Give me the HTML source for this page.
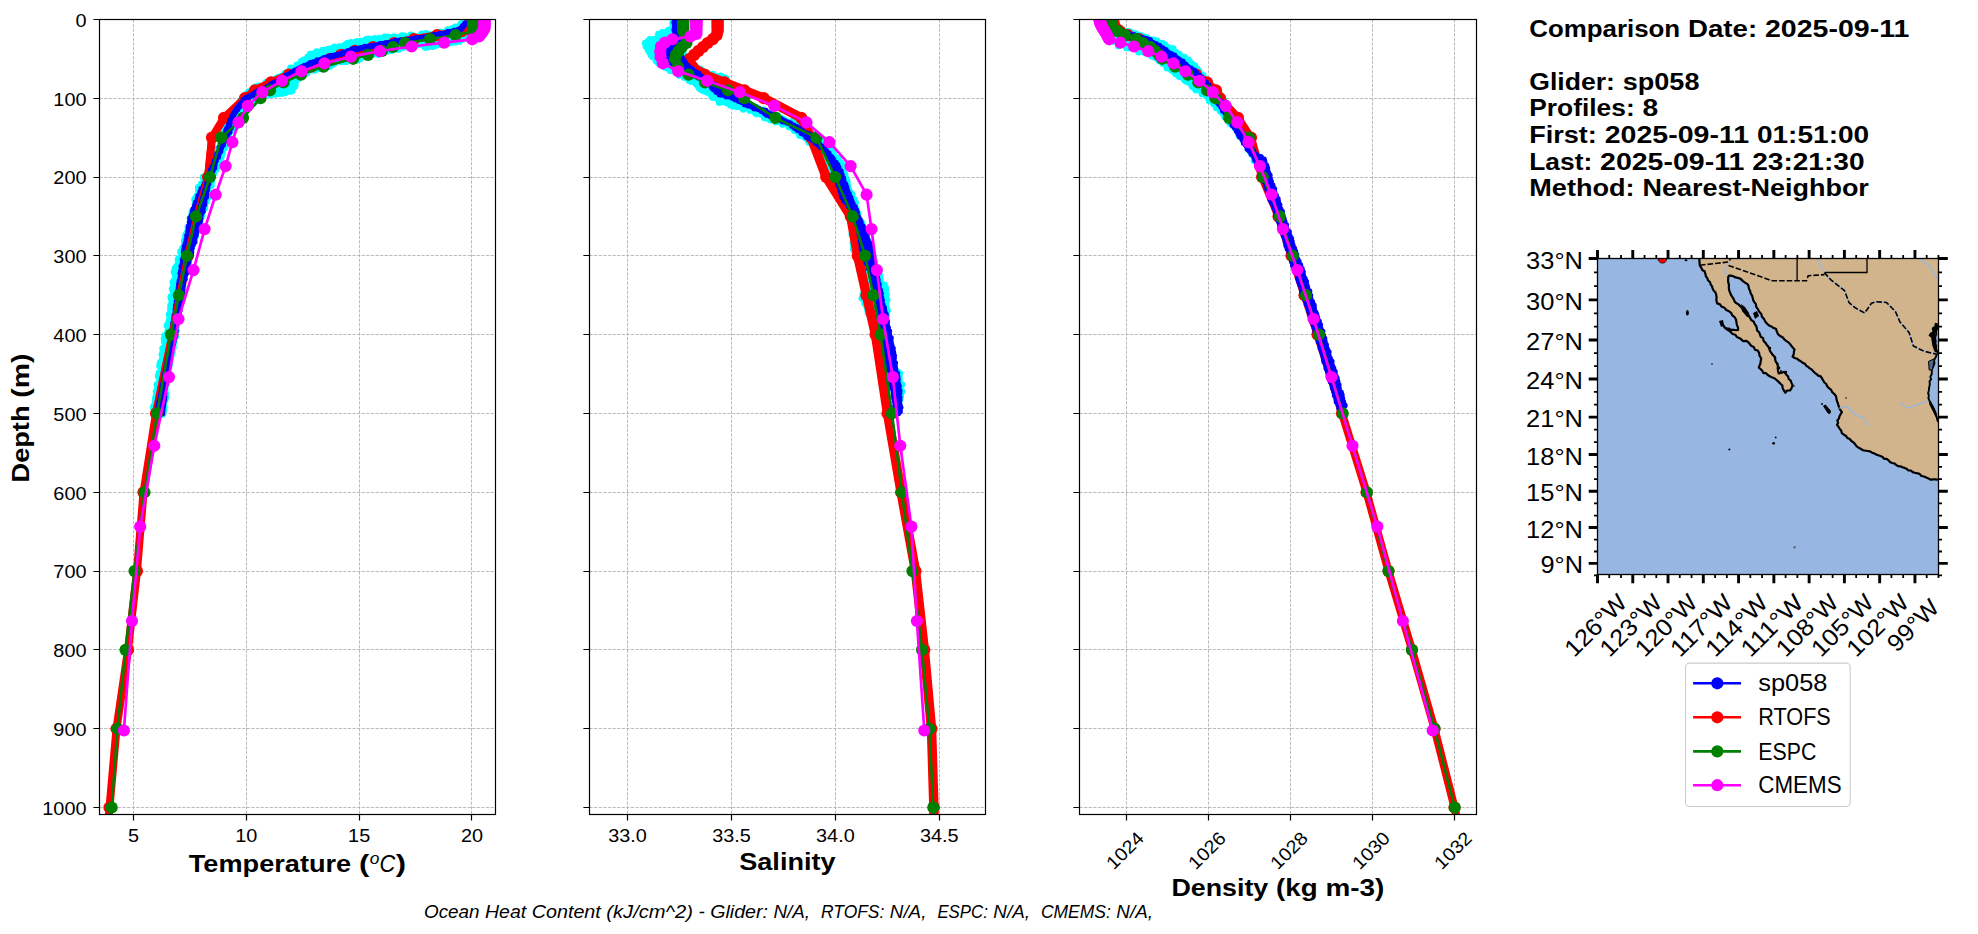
<!DOCTYPE html><html><head><meta charset="utf-8"><style>html,body{margin:0;padding:0;background:#fff;overflow:hidden}svg{display:block}</style></head><body><svg width="1978" height="934" viewBox="0 0 1978 934" font-family="Liberation Sans, sans-serif">
<rect width="1978" height="934" fill="#fff"/>
<defs>
<clipPath id="c0"><rect x="99.5" y="19.4" width="395.9" height="794.9"/></clipPath>
<clipPath id="c1"><rect x="589.4" y="19.4" width="396.0" height="794.9"/></clipPath>
<clipPath id="c2"><rect x="1079.4" y="19.4" width="397.0" height="794.9"/></clipPath>
</defs>
<g><line x1="99.5" y1="19.50" x2="495.5" y2="19.50" stroke="#b0b0b0" stroke-width="0.87" stroke-dasharray="3.21 1.39"/><line x1="99.5" y1="98.50" x2="495.5" y2="98.50" stroke="#b0b0b0" stroke-width="0.87" stroke-dasharray="3.21 1.39"/><line x1="99.5" y1="177.50" x2="495.5" y2="177.50" stroke="#b0b0b0" stroke-width="0.87" stroke-dasharray="3.21 1.39"/><line x1="99.5" y1="255.50" x2="495.5" y2="255.50" stroke="#b0b0b0" stroke-width="0.87" stroke-dasharray="3.21 1.39"/><line x1="99.5" y1="334.50" x2="495.5" y2="334.50" stroke="#b0b0b0" stroke-width="0.87" stroke-dasharray="3.21 1.39"/><line x1="99.5" y1="413.50" x2="495.5" y2="413.50" stroke="#b0b0b0" stroke-width="0.87" stroke-dasharray="3.21 1.39"/><line x1="99.5" y1="492.50" x2="495.5" y2="492.50" stroke="#b0b0b0" stroke-width="0.87" stroke-dasharray="3.21 1.39"/><line x1="99.5" y1="571.50" x2="495.5" y2="571.50" stroke="#b0b0b0" stroke-width="0.87" stroke-dasharray="3.21 1.39"/><line x1="99.5" y1="649.50" x2="495.5" y2="649.50" stroke="#b0b0b0" stroke-width="0.87" stroke-dasharray="3.21 1.39"/><line x1="99.5" y1="728.50" x2="495.5" y2="728.50" stroke="#b0b0b0" stroke-width="0.87" stroke-dasharray="3.21 1.39"/><line x1="99.5" y1="807.50" x2="495.5" y2="807.50" stroke="#b0b0b0" stroke-width="0.87" stroke-dasharray="3.21 1.39"/><line x1="133.50" y1="19.5" x2="133.50" y2="814.5" stroke="#b0b0b0" stroke-width="0.87" stroke-dasharray="3.21 1.39"/><line x1="246.50" y1="19.5" x2="246.50" y2="814.5" stroke="#b0b0b0" stroke-width="0.87" stroke-dasharray="3.21 1.39"/><line x1="359.50" y1="19.5" x2="359.50" y2="814.5" stroke="#b0b0b0" stroke-width="0.87" stroke-dasharray="3.21 1.39"/><line x1="471.50" y1="19.5" x2="471.50" y2="814.5" stroke="#b0b0b0" stroke-width="0.87" stroke-dasharray="3.21 1.39"/></g>
<g><line x1="589.5" y1="19.50" x2="985.5" y2="19.50" stroke="#b0b0b0" stroke-width="0.87" stroke-dasharray="3.21 1.39"/><line x1="589.5" y1="98.50" x2="985.5" y2="98.50" stroke="#b0b0b0" stroke-width="0.87" stroke-dasharray="3.21 1.39"/><line x1="589.5" y1="177.50" x2="985.5" y2="177.50" stroke="#b0b0b0" stroke-width="0.87" stroke-dasharray="3.21 1.39"/><line x1="589.5" y1="255.50" x2="985.5" y2="255.50" stroke="#b0b0b0" stroke-width="0.87" stroke-dasharray="3.21 1.39"/><line x1="589.5" y1="334.50" x2="985.5" y2="334.50" stroke="#b0b0b0" stroke-width="0.87" stroke-dasharray="3.21 1.39"/><line x1="589.5" y1="413.50" x2="985.5" y2="413.50" stroke="#b0b0b0" stroke-width="0.87" stroke-dasharray="3.21 1.39"/><line x1="589.5" y1="492.50" x2="985.5" y2="492.50" stroke="#b0b0b0" stroke-width="0.87" stroke-dasharray="3.21 1.39"/><line x1="589.5" y1="571.50" x2="985.5" y2="571.50" stroke="#b0b0b0" stroke-width="0.87" stroke-dasharray="3.21 1.39"/><line x1="589.5" y1="649.50" x2="985.5" y2="649.50" stroke="#b0b0b0" stroke-width="0.87" stroke-dasharray="3.21 1.39"/><line x1="589.5" y1="728.50" x2="985.5" y2="728.50" stroke="#b0b0b0" stroke-width="0.87" stroke-dasharray="3.21 1.39"/><line x1="589.5" y1="807.50" x2="985.5" y2="807.50" stroke="#b0b0b0" stroke-width="0.87" stroke-dasharray="3.21 1.39"/><line x1="627.50" y1="19.5" x2="627.50" y2="814.5" stroke="#b0b0b0" stroke-width="0.87" stroke-dasharray="3.21 1.39"/><line x1="731.50" y1="19.5" x2="731.50" y2="814.5" stroke="#b0b0b0" stroke-width="0.87" stroke-dasharray="3.21 1.39"/><line x1="835.50" y1="19.5" x2="835.50" y2="814.5" stroke="#b0b0b0" stroke-width="0.87" stroke-dasharray="3.21 1.39"/><line x1="939.50" y1="19.5" x2="939.50" y2="814.5" stroke="#b0b0b0" stroke-width="0.87" stroke-dasharray="3.21 1.39"/></g>
<g><line x1="1079.5" y1="19.50" x2="1476.5" y2="19.50" stroke="#b0b0b0" stroke-width="0.87" stroke-dasharray="3.21 1.39"/><line x1="1079.5" y1="98.50" x2="1476.5" y2="98.50" stroke="#b0b0b0" stroke-width="0.87" stroke-dasharray="3.21 1.39"/><line x1="1079.5" y1="177.50" x2="1476.5" y2="177.50" stroke="#b0b0b0" stroke-width="0.87" stroke-dasharray="3.21 1.39"/><line x1="1079.5" y1="255.50" x2="1476.5" y2="255.50" stroke="#b0b0b0" stroke-width="0.87" stroke-dasharray="3.21 1.39"/><line x1="1079.5" y1="334.50" x2="1476.5" y2="334.50" stroke="#b0b0b0" stroke-width="0.87" stroke-dasharray="3.21 1.39"/><line x1="1079.5" y1="413.50" x2="1476.5" y2="413.50" stroke="#b0b0b0" stroke-width="0.87" stroke-dasharray="3.21 1.39"/><line x1="1079.5" y1="492.50" x2="1476.5" y2="492.50" stroke="#b0b0b0" stroke-width="0.87" stroke-dasharray="3.21 1.39"/><line x1="1079.5" y1="571.50" x2="1476.5" y2="571.50" stroke="#b0b0b0" stroke-width="0.87" stroke-dasharray="3.21 1.39"/><line x1="1079.5" y1="649.50" x2="1476.5" y2="649.50" stroke="#b0b0b0" stroke-width="0.87" stroke-dasharray="3.21 1.39"/><line x1="1079.5" y1="728.50" x2="1476.5" y2="728.50" stroke="#b0b0b0" stroke-width="0.87" stroke-dasharray="3.21 1.39"/><line x1="1079.5" y1="807.50" x2="1476.5" y2="807.50" stroke="#b0b0b0" stroke-width="0.87" stroke-dasharray="3.21 1.39"/><line x1="1126.50" y1="19.5" x2="1126.50" y2="814.5" stroke="#b0b0b0" stroke-width="0.87" stroke-dasharray="3.21 1.39"/><line x1="1208.50" y1="19.5" x2="1208.50" y2="814.5" stroke="#b0b0b0" stroke-width="0.87" stroke-dasharray="3.21 1.39"/><line x1="1290.50" y1="19.5" x2="1290.50" y2="814.5" stroke="#b0b0b0" stroke-width="0.87" stroke-dasharray="3.21 1.39"/><line x1="1372.50" y1="19.5" x2="1372.50" y2="814.5" stroke="#b0b0b0" stroke-width="0.87" stroke-dasharray="3.21 1.39"/><line x1="1454.50" y1="19.5" x2="1454.50" y2="814.5" stroke="#b0b0b0" stroke-width="0.87" stroke-dasharray="3.21 1.39"/></g>
<g clip-path="url(#c0)"><g fill="#00ffff"><polygon points="462.4,22.8 461.7,23.8 461.5,24.1 461.3,24.3 461.0,24.6 460.7,24.8 460.4,24.9 451.8,29.2 451.6,29.4 451.3,29.5 442.7,32.1 442.3,32.2 432.0,33.9 431.8,33.9 417.2,35.6 417.1,35.6 397.3,37.3 397.2,37.3 381.9,38.2 368.3,39.9 358.1,41.5 349.8,43.2 339.7,46.6 339.4,46.7 326.0,50.0 313.9,53.7 299.0,63.0 287.5,71.6 287.3,71.8 287.0,71.9 271.7,79.6 262.3,85.3 261.8,85.5 248.9,91.1 242.2,97.8 239.5,104.0 239.4,104.4 239.2,104.7 238.9,105.0 231.0,113.8 225.2,129.2 217.2,151.2 217.1,151.4 208.1,171.4 207.9,171.7 199.3,186.6 191.3,215.9 183.4,247.6 183.3,248.0 175.4,269.0 172.8,287.4 170.1,314.0 170.0,314.4 164.8,341.0 160.8,367.7 156.8,394.4 156.8,394.5 154.2,409.6 156.3,414.6 163.0,414.6 164.6,399.6 164.6,399.6 168.6,369.6 168.6,369.5 172.6,344.5 172.7,344.3 177.7,319.4 182.1,291.8 184.6,274.5 184.7,274.2 190.7,249.2 190.8,249.0 199.8,221.0 206.8,199.0 212.7,179.0 212.8,178.8 228.8,134.8 228.9,134.6 229.1,134.3 229.2,134.0 229.4,133.8 239.4,122.0 245.9,109.7 246.1,109.4 246.3,109.1 251.1,103.3 251.3,103.1 251.6,102.9 251.8,102.7 263.4,95.0 263.7,94.8 264.0,94.7 264.3,94.5 264.7,94.5 265.0,94.4 274.5,93.5 283.1,92.5 291.0,91.0 297.0,79.0 297.1,78.7 297.3,78.5 297.5,78.2 297.7,78.0 297.9,77.8 298.2,77.6 298.5,77.5 310.1,71.7 310.5,71.5 336.5,62.8 336.8,62.7 337.2,62.6 352.4,60.7 367.6,55.6 368.0,55.5 393.7,50.4 415.0,44.4 415.3,44.4 415.6,44.3 415.9,44.3 416.2,44.3 416.5,44.4 428.6,46.7 436.5,44.4 436.8,44.4 437.2,44.3 451.4,43.4 459.1,41.1 467.1,35.8 471.3,22.8 462.4,22.8"/><circle cx="462.6" cy="22.6" r="3.4"/><circle cx="460.6" cy="24.2" r="3.4"/><circle cx="458.5" cy="27.1" r="3.4"/><circle cx="455.4" cy="26.8" r="3.4"/><circle cx="452.4" cy="28.5" r="3.4"/><circle cx="448.8" cy="31.2" r="3.4"/><circle cx="447.9" cy="29.7" r="3.4"/><circle cx="444.7" cy="32.0" r="3.4"/><circle cx="440.5" cy="31.8" r="3.4"/><circle cx="438.3" cy="32.8" r="3.4"/><circle cx="435.4" cy="33.8" r="3.4"/><circle cx="431.0" cy="34.6" r="3.4"/><circle cx="430.2" cy="35.4" r="3.4"/><circle cx="426.3" cy="33.4" r="3.4"/><circle cx="421.7" cy="34.0" r="3.4"/><circle cx="421.2" cy="34.7" r="3.4"/><circle cx="416.7" cy="36.6" r="3.4"/><circle cx="413.6" cy="36.0" r="3.4"/><circle cx="410.9" cy="35.0" r="3.4"/><circle cx="408.3" cy="37.3" r="3.4"/><circle cx="404.2" cy="35.9" r="3.4"/><circle cx="401.8" cy="35.7" r="3.4"/><circle cx="399.1" cy="38.0" r="3.4"/><circle cx="396.5" cy="37.4" r="3.4"/><circle cx="394.0" cy="36.6" r="3.4"/><circle cx="390.3" cy="37.4" r="3.4"/><circle cx="387.4" cy="36.9" r="3.4"/><circle cx="384.8" cy="37.0" r="3.4"/><circle cx="380.2" cy="39.1" r="3.4"/><circle cx="379.3" cy="38.5" r="3.4"/><circle cx="374.9" cy="38.4" r="3.4"/><circle cx="371.6" cy="39.7" r="3.4"/><circle cx="368.3" cy="38.8" r="3.4"/><circle cx="366.1" cy="39.3" r="3.4"/><circle cx="363.6" cy="41.5" r="3.4"/><circle cx="361.0" cy="41.1" r="3.4"/><circle cx="356.9" cy="41.5" r="3.4"/><circle cx="353.1" cy="42.8" r="3.4"/><circle cx="351.0" cy="42.4" r="3.4"/><circle cx="347.4" cy="43.5" r="3.4"/><circle cx="345.9" cy="44.3" r="3.4"/><circle cx="343.8" cy="46.0" r="3.4"/><circle cx="339.3" cy="46.6" r="3.4"/><circle cx="338.2" cy="47.3" r="3.4"/><circle cx="334.4" cy="46.8" r="3.4"/><circle cx="331.2" cy="48.6" r="3.4"/><circle cx="328.1" cy="49.2" r="3.4"/><circle cx="325.7" cy="50.3" r="3.4"/><circle cx="322.5" cy="50.2" r="3.4"/><circle cx="319.6" cy="53.1" r="3.4"/><circle cx="316.6" cy="51.6" r="3.4"/><circle cx="312.7" cy="53.8" r="3.4"/><circle cx="310.2" cy="54.2" r="3.4"/><circle cx="307.8" cy="56.8" r="3.4"/><circle cx="307.6" cy="58.4" r="3.4"/><circle cx="303.7" cy="59.9" r="3.4"/><circle cx="301.2" cy="61.5" r="3.4"/><circle cx="299.3" cy="64.3" r="3.4"/><circle cx="296.8" cy="64.9" r="3.4"/><circle cx="294.3" cy="67.9" r="3.4"/><circle cx="290.6" cy="68.0" r="3.4"/><circle cx="289.4" cy="70.9" r="3.4"/><circle cx="287.0" cy="72.4" r="3.4"/><circle cx="284.8" cy="73.4" r="3.4"/><circle cx="282.0" cy="76.0" r="3.4"/><circle cx="278.4" cy="77.1" r="3.4"/><circle cx="276.4" cy="78.5" r="3.4"/><circle cx="272.0" cy="79.9" r="3.4"/><circle cx="271.2" cy="81.5" r="3.4"/><circle cx="269.2" cy="81.3" r="3.4"/><circle cx="265.8" cy="82.5" r="3.4"/><circle cx="263.1" cy="86.1" r="3.4"/><circle cx="259.3" cy="85.9" r="3.4"/><circle cx="256.3" cy="86.6" r="3.4"/><circle cx="253.9" cy="87.6" r="3.4"/><circle cx="253.2" cy="90.8" r="3.4"/><circle cx="249.0" cy="91.6" r="3.4"/><circle cx="247.4" cy="93.1" r="3.4"/><circle cx="244.6" cy="95.6" r="3.4"/><circle cx="242.8" cy="96.7" r="3.4"/><circle cx="240.9" cy="100.3" r="3.4"/><circle cx="240.4" cy="101.9" r="3.4"/><circle cx="238.9" cy="106.3" r="3.4"/><circle cx="237.6" cy="107.9" r="3.4"/><circle cx="233.5" cy="109.5" r="3.4"/><circle cx="231.5" cy="110.8" r="3.4"/><circle cx="230.1" cy="114.2" r="3.4"/><circle cx="230.4" cy="117.4" r="3.4"/><circle cx="228.1" cy="120.4" r="3.4"/><circle cx="227.6" cy="122.8" r="3.4"/><circle cx="225.9" cy="125.4" r="3.4"/><circle cx="225.1" cy="128.9" r="3.4"/><circle cx="224.4" cy="131.0" r="3.4"/><circle cx="223.4" cy="133.9" r="3.4"/><circle cx="222.9" cy="137.4" r="3.4"/><circle cx="222.2" cy="139.4" r="3.4"/><circle cx="221.1" cy="143.7" r="3.4"/><circle cx="220.6" cy="145.9" r="3.4"/><circle cx="217.2" cy="149.0" r="3.4"/><circle cx="218.2" cy="149.7" r="3.4"/><circle cx="215.6" cy="153.2" r="3.4"/><circle cx="215.5" cy="156.7" r="3.4"/><circle cx="213.0" cy="158.3" r="3.4"/><circle cx="211.5" cy="160.8" r="3.4"/><circle cx="211.9" cy="165.8" r="3.4"/><circle cx="209.2" cy="168.0" r="3.4"/><circle cx="209.9" cy="169.3" r="3.4"/><circle cx="207.5" cy="172.6" r="3.4"/><circle cx="207.0" cy="176.3" r="3.4"/><circle cx="203.0" cy="177.2" r="3.4"/><circle cx="203.7" cy="180.8" r="3.4"/><circle cx="201.3" cy="184.0" r="3.4"/><circle cx="200.5" cy="186.9" r="3.4"/><circle cx="198.3" cy="187.4" r="3.4"/><circle cx="198.4" cy="190.3" r="3.4"/><circle cx="197.3" cy="195.3" r="3.4"/><circle cx="196.1" cy="197.5" r="3.4"/><circle cx="194.7" cy="199.3" r="3.4"/><circle cx="195.1" cy="204.0" r="3.4"/><circle cx="195.3" cy="204.7" r="3.4"/><circle cx="194.3" cy="208.9" r="3.4"/><circle cx="192.0" cy="211.5" r="3.4"/><circle cx="191.8" cy="214.2" r="3.4"/><circle cx="190.0" cy="218.5" r="3.4"/><circle cx="190.7" cy="220.7" r="3.4"/><circle cx="190.0" cy="224.6" r="3.4"/><circle cx="187.9" cy="227.1" r="3.4"/><circle cx="188.8" cy="228.8" r="3.4"/><circle cx="187.4" cy="232.0" r="3.4"/><circle cx="185.7" cy="234.8" r="3.4"/><circle cx="184.9" cy="239.1" r="3.4"/><circle cx="184.3" cy="241.2" r="3.4"/><circle cx="184.5" cy="245.0" r="3.4"/><circle cx="184.4" cy="246.3" r="3.4"/><circle cx="182.4" cy="248.4" r="3.4"/><circle cx="180.5" cy="251.8" r="3.4"/><circle cx="181.8" cy="254.0" r="3.4"/><circle cx="178.7" cy="258.3" r="3.4"/><circle cx="178.1" cy="260.0" r="3.4"/><circle cx="178.6" cy="262.4" r="3.4"/><circle cx="176.7" cy="266.2" r="3.4"/><circle cx="175.0" cy="268.4" r="3.4"/><circle cx="174.1" cy="272.0" r="3.4"/><circle cx="175.2" cy="275.1" r="3.4"/><circle cx="174.8" cy="279.1" r="3.4"/><circle cx="172.8" cy="282.1" r="3.4"/><circle cx="173.5" cy="283.9" r="3.4"/><circle cx="172.9" cy="288.1" r="3.4"/><circle cx="172.2" cy="289.0" r="3.4"/><circle cx="173.4" cy="292.0" r="3.4"/><circle cx="170.9" cy="296.6" r="3.4"/><circle cx="171.1" cy="298.5" r="3.4"/><circle cx="171.7" cy="303.0" r="3.4"/><circle cx="170.6" cy="306.0" r="3.4"/><circle cx="171.0" cy="308.3" r="3.4"/><circle cx="170.5" cy="309.7" r="3.4"/><circle cx="169.2" cy="314.4" r="3.4"/><circle cx="170.0" cy="315.8" r="3.4"/><circle cx="169.3" cy="319.8" r="3.4"/><circle cx="168.6" cy="322.5" r="3.4"/><circle cx="167.0" cy="325.4" r="3.4"/><circle cx="168.4" cy="327.9" r="3.4"/><circle cx="167.6" cy="331.7" r="3.4"/><circle cx="164.9" cy="335.4" r="3.4"/><circle cx="164.2" cy="338.4" r="3.4"/><circle cx="164.4" cy="341.5" r="3.4"/><circle cx="165.0" cy="343.1" r="3.4"/><circle cx="164.3" cy="347.7" r="3.4"/><circle cx="162.6" cy="348.6" r="3.4"/><circle cx="162.5" cy="353.2" r="3.4"/><circle cx="162.0" cy="354.6" r="3.4"/><circle cx="162.5" cy="358.5" r="3.4"/><circle cx="161.5" cy="361.4" r="3.4"/><circle cx="160.1" cy="362.9" r="3.4"/><circle cx="159.6" cy="366.0" r="3.4"/><circle cx="161.1" cy="371.4" r="3.4"/><circle cx="159.0" cy="372.8" r="3.4"/><circle cx="158.2" cy="375.9" r="3.4"/><circle cx="159.5" cy="379.4" r="3.4"/><circle cx="159.7" cy="382.2" r="3.4"/><circle cx="157.0" cy="384.7" r="3.4"/><circle cx="157.6" cy="387.5" r="3.4"/><circle cx="156.1" cy="391.3" r="3.4"/><circle cx="156.8" cy="394.5" r="3.4"/><circle cx="156.0" cy="395.8" r="3.4"/><circle cx="155.2" cy="399.0" r="3.4"/><circle cx="155.3" cy="401.9" r="3.4"/><circle cx="153.8" cy="405.8" r="3.4"/><circle cx="153.4" cy="407.7" r="3.4"/><circle cx="154.0" cy="412.1" r="3.4"/><circle cx="157.0" cy="415.1" r="3.4"/><circle cx="159.2" cy="415.0" r="3.4"/><circle cx="162.6" cy="414.4" r="3.4"/><circle cx="163.2" cy="413.1" r="3.4"/><circle cx="163.9" cy="409.9" r="3.4"/><circle cx="164.2" cy="406.7" r="3.4"/><circle cx="163.4" cy="403.1" r="3.4"/><circle cx="165.0" cy="400.4" r="3.4"/><circle cx="165.8" cy="397.3" r="3.4"/><circle cx="165.7" cy="393.7" r="3.4"/><circle cx="165.2" cy="392.6" r="3.4"/><circle cx="165.2" cy="389.1" r="3.4"/><circle cx="165.2" cy="386.0" r="3.4"/><circle cx="166.7" cy="383.8" r="3.4"/><circle cx="168.1" cy="380.5" r="3.4"/><circle cx="167.2" cy="377.3" r="3.4"/><circle cx="167.2" cy="373.8" r="3.4"/><circle cx="168.2" cy="370.8" r="3.4"/><circle cx="168.3" cy="367.2" r="3.4"/><circle cx="169.4" cy="365.3" r="3.4"/><circle cx="170.0" cy="363.2" r="3.4"/><circle cx="170.5" cy="358.1" r="3.4"/><circle cx="171.2" cy="355.6" r="3.4"/><circle cx="172.4" cy="352.1" r="3.4"/><circle cx="171.6" cy="350.6" r="3.4"/><circle cx="173.4" cy="347.2" r="3.4"/><circle cx="172.4" cy="344.9" r="3.4"/><circle cx="174.0" cy="342.3" r="3.4"/><circle cx="174.4" cy="337.3" r="3.4"/><circle cx="175.7" cy="336.5" r="3.4"/><circle cx="174.9" cy="332.8" r="3.4"/><circle cx="176.5" cy="330.6" r="3.4"/><circle cx="176.8" cy="325.5" r="3.4"/><circle cx="175.7" cy="323.2" r="3.4"/><circle cx="177.3" cy="320.1" r="3.4"/><circle cx="178.6" cy="318.4" r="3.4"/><circle cx="178.2" cy="315.2" r="3.4"/><circle cx="178.1" cy="312.9" r="3.4"/><circle cx="178.7" cy="307.9" r="3.4"/><circle cx="179.6" cy="306.8" r="3.4"/><circle cx="180.6" cy="303.3" r="3.4"/><circle cx="181.6" cy="299.6" r="3.4"/><circle cx="182.5" cy="298.2" r="3.4"/><circle cx="181.9" cy="294.6" r="3.4"/><circle cx="183.2" cy="291.2" r="3.4"/><circle cx="181.7" cy="288.4" r="3.4"/><circle cx="183.0" cy="286.0" r="3.4"/><circle cx="182.8" cy="280.8" r="3.4"/><circle cx="183.1" cy="278.3" r="3.4"/><circle cx="184.1" cy="275.4" r="3.4"/><circle cx="184.5" cy="273.4" r="3.4"/><circle cx="184.7" cy="270.2" r="3.4"/><circle cx="186.0" cy="266.1" r="3.4"/><circle cx="187.5" cy="264.4" r="3.4"/><circle cx="188.5" cy="262.5" r="3.4"/><circle cx="187.3" cy="259.1" r="3.4"/><circle cx="189.0" cy="256.6" r="3.4"/><circle cx="188.8" cy="253.6" r="3.4"/><circle cx="190.4" cy="248.8" r="3.4"/><circle cx="191.3" cy="247.9" r="3.4"/><circle cx="191.2" cy="243.8" r="3.4"/><circle cx="192.2" cy="240.0" r="3.4"/><circle cx="195.0" cy="238.5" r="3.4"/><circle cx="195.3" cy="236.6" r="3.4"/><circle cx="194.9" cy="233.8" r="3.4"/><circle cx="197.6" cy="230.7" r="3.4"/><circle cx="198.7" cy="226.7" r="3.4"/><circle cx="197.5" cy="225.4" r="3.4"/><circle cx="200.0" cy="221.8" r="3.4"/><circle cx="201.1" cy="217.8" r="3.4"/><circle cx="201.9" cy="215.4" r="3.4"/><circle cx="201.7" cy="212.6" r="3.4"/><circle cx="203.2" cy="209.3" r="3.4"/><circle cx="204.9" cy="208.0" r="3.4"/><circle cx="205.4" cy="202.8" r="3.4"/><circle cx="206.2" cy="201.5" r="3.4"/><circle cx="207.8" cy="197.8" r="3.4"/><circle cx="207.1" cy="195.1" r="3.4"/><circle cx="207.8" cy="193.3" r="3.4"/><circle cx="208.3" cy="189.9" r="3.4"/><circle cx="211.3" cy="185.6" r="3.4"/><circle cx="210.4" cy="185.2" r="3.4"/><circle cx="211.6" cy="181.8" r="3.4"/><circle cx="211.8" cy="178.1" r="3.4"/><circle cx="212.9" cy="174.7" r="3.4"/><circle cx="213.8" cy="173.0" r="3.4"/><circle cx="216.0" cy="169.4" r="3.4"/><circle cx="216.9" cy="167.4" r="3.4"/><circle cx="217.5" cy="163.2" r="3.4"/><circle cx="218.0" cy="161.7" r="3.4"/><circle cx="220.6" cy="157.8" r="3.4"/><circle cx="221.3" cy="156.9" r="3.4"/><circle cx="222.2" cy="153.5" r="3.4"/><circle cx="222.9" cy="150.1" r="3.4"/><circle cx="225.0" cy="147.7" r="3.4"/><circle cx="225.6" cy="143.8" r="3.4"/><circle cx="225.2" cy="141.5" r="3.4"/><circle cx="228.0" cy="138.3" r="3.4"/><circle cx="229.0" cy="135.8" r="3.4"/><circle cx="228.7" cy="133.5" r="3.4"/><circle cx="231.9" cy="130.5" r="3.4"/><circle cx="232.9" cy="129.9" r="3.4"/><circle cx="235.9" cy="127.0" r="3.4"/><circle cx="236.4" cy="124.7" r="3.4"/><circle cx="238.6" cy="121.7" r="3.4"/><circle cx="240.6" cy="118.8" r="3.4"/><circle cx="243.1" cy="115.7" r="3.4"/><circle cx="244.9" cy="114.7" r="3.4"/><circle cx="245.1" cy="112.1" r="3.4"/><circle cx="246.8" cy="109.7" r="3.4"/><circle cx="248.6" cy="107.6" r="3.4"/><circle cx="251.2" cy="104.4" r="3.4"/><circle cx="254.1" cy="102.5" r="3.4"/><circle cx="254.6" cy="100.8" r="3.4"/><circle cx="256.9" cy="98.5" r="3.4"/><circle cx="260.8" cy="96.3" r="3.4"/><circle cx="262.6" cy="94.7" r="3.4"/><circle cx="265.3" cy="93.7" r="3.4"/><circle cx="269.1" cy="95.0" r="3.4"/><circle cx="271.5" cy="94.4" r="3.4"/><circle cx="275.2" cy="94.3" r="3.4"/><circle cx="278.3" cy="93.6" r="3.4"/><circle cx="281.1" cy="93.4" r="3.4"/><circle cx="283.5" cy="93.2" r="3.4"/><circle cx="285.6" cy="92.5" r="3.4"/><circle cx="289.7" cy="91.4" r="3.4"/><circle cx="291.9" cy="90.9" r="3.4"/><circle cx="293.7" cy="87.6" r="3.4"/><circle cx="295.3" cy="85.4" r="3.4"/><circle cx="295.1" cy="82.7" r="3.4"/><circle cx="297.9" cy="79.3" r="3.4"/><circle cx="300.2" cy="76.3" r="3.4"/><circle cx="302.6" cy="75.1" r="3.4"/><circle cx="304.3" cy="74.5" r="3.4"/><circle cx="307.0" cy="73.1" r="3.4"/><circle cx="308.8" cy="70.6" r="3.4"/><circle cx="313.3" cy="70.1" r="3.4"/><circle cx="315.0" cy="70.3" r="3.4"/><circle cx="319.1" cy="68.9" r="3.4"/><circle cx="322.1" cy="67.5" r="3.4"/><circle cx="325.1" cy="67.3" r="3.4"/><circle cx="327.8" cy="66.8" r="3.4"/><circle cx="330.3" cy="66.1" r="3.4"/><circle cx="333.3" cy="63.9" r="3.4"/><circle cx="334.5" cy="62.9" r="3.4"/><circle cx="338.7" cy="61.2" r="3.4"/><circle cx="341.6" cy="61.8" r="3.4"/><circle cx="344.3" cy="60.6" r="3.4"/><circle cx="346.2" cy="61.7" r="3.4"/><circle cx="349.7" cy="60.0" r="3.4"/><circle cx="354.2" cy="59.2" r="3.4"/><circle cx="356.6" cy="60.3" r="3.4"/><circle cx="360.0" cy="58.9" r="3.4"/><circle cx="360.6" cy="57.4" r="3.4"/><circle cx="365.6" cy="56.3" r="3.4"/><circle cx="367.6" cy="56.2" r="3.4"/><circle cx="370.6" cy="54.6" r="3.4"/><circle cx="373.6" cy="54.3" r="3.4"/><circle cx="375.9" cy="52.7" r="3.4"/><circle cx="378.6" cy="54.5" r="3.4"/><circle cx="381.7" cy="52.3" r="3.4"/><circle cx="386.4" cy="51.0" r="3.4"/><circle cx="387.5" cy="51.2" r="3.4"/><circle cx="391.0" cy="50.7" r="3.4"/><circle cx="393.4" cy="49.4" r="3.4"/><circle cx="397.0" cy="48.6" r="3.4"/><circle cx="398.5" cy="49.4" r="3.4"/><circle cx="403.3" cy="47.5" r="3.4"/><circle cx="406.5" cy="46.2" r="3.4"/><circle cx="409.5" cy="46.7" r="3.4"/><circle cx="411.8" cy="44.3" r="3.4"/><circle cx="414.9" cy="43.8" r="3.4"/><circle cx="417.3" cy="44.6" r="3.4"/><circle cx="419.0" cy="44.5" r="3.4"/><circle cx="424.2" cy="46.3" r="3.4"/><circle cx="425.5" cy="47.4" r="3.4"/><circle cx="427.8" cy="47.0" r="3.4"/><circle cx="432.6" cy="46.7" r="3.4"/><circle cx="435.1" cy="45.6" r="3.4"/><circle cx="437.0" cy="45.0" r="3.4"/><circle cx="441.1" cy="44.3" r="3.4"/><circle cx="443.0" cy="44.4" r="3.4"/><circle cx="445.5" cy="43.7" r="3.4"/><circle cx="450.0" cy="43.1" r="3.4"/><circle cx="452.8" cy="41.9" r="3.4"/><circle cx="455.0" cy="42.2" r="3.4"/><circle cx="459.2" cy="41.4" r="3.4"/><circle cx="462.1" cy="39.6" r="3.4"/><circle cx="464.5" cy="38.5" r="3.4"/><circle cx="465.9" cy="35.8" r="3.4"/><circle cx="468.5" cy="35.1" r="3.4"/><circle cx="468.2" cy="31.0" r="3.4"/><circle cx="468.9" cy="28.2" r="3.4"/><circle cx="469.3" cy="26.7" r="3.4"/><circle cx="471.1" cy="22.0" r="3.4"/><circle cx="468.9" cy="22.0" r="3.4"/><circle cx="466.4" cy="21.5" r="3.4"/></g><g fill="#0000ff"></g><polyline points="472.0,19.4 471.8,21.0 471.6,22.6 471.4,24.1 471.2,25.7 471.0,27.3 468.0,28.9 462.0,31.2 437.0,35.2 414.0,39.1 394.0,43.0 373.0,47.0 355.0,50.9 341.0,54.9 330.0,58.8 311.0,66.7 289.0,74.6 271.0,82.4 255.0,90.3 245.0,98.2 224.0,117.9 212.0,137.6 208.0,177.0 197.0,216.4 188.0,255.8 180.0,295.2 172.5,334.6 156.0,413.4 143.5,492.3 137.0,571.1 128.0,649.9 116.5,728.7 109.5,807.5 94.0,1004.5" fill="none" stroke="#ff0000" stroke-width="8" stroke-linejoin="round"/><circle cx="472.0" cy="19.4" r="6.08" fill="#ff0000"/><circle cx="471.8" cy="21.0" r="6.08" fill="#ff0000"/><circle cx="471.6" cy="22.6" r="6.08" fill="#ff0000"/><circle cx="471.4" cy="24.1" r="6.08" fill="#ff0000"/><circle cx="471.2" cy="25.7" r="6.08" fill="#ff0000"/><circle cx="471.0" cy="27.3" r="6.08" fill="#ff0000"/><circle cx="468.0" cy="28.9" r="6.08" fill="#ff0000"/><circle cx="462.0" cy="31.2" r="6.08" fill="#ff0000"/><circle cx="437.0" cy="35.2" r="6.08" fill="#ff0000"/><circle cx="414.0" cy="39.1" r="6.08" fill="#ff0000"/><circle cx="394.0" cy="43.0" r="6.08" fill="#ff0000"/><circle cx="373.0" cy="47.0" r="6.08" fill="#ff0000"/><circle cx="355.0" cy="50.9" r="6.08" fill="#ff0000"/><circle cx="341.0" cy="54.9" r="6.08" fill="#ff0000"/><circle cx="330.0" cy="58.8" r="6.08" fill="#ff0000"/><circle cx="311.0" cy="66.7" r="6.08" fill="#ff0000"/><circle cx="289.0" cy="74.6" r="6.08" fill="#ff0000"/><circle cx="271.0" cy="82.4" r="6.08" fill="#ff0000"/><circle cx="255.0" cy="90.3" r="6.08" fill="#ff0000"/><circle cx="245.0" cy="98.2" r="6.08" fill="#ff0000"/><circle cx="224.0" cy="117.9" r="6.08" fill="#ff0000"/><circle cx="212.0" cy="137.6" r="6.08" fill="#ff0000"/><circle cx="208.0" cy="177.0" r="6.08" fill="#ff0000"/><circle cx="197.0" cy="216.4" r="6.08" fill="#ff0000"/><circle cx="188.0" cy="255.8" r="6.08" fill="#ff0000"/><circle cx="180.0" cy="295.2" r="6.08" fill="#ff0000"/><circle cx="172.5" cy="334.6" r="6.08" fill="#ff0000"/><circle cx="156.0" cy="413.4" r="6.08" fill="#ff0000"/><circle cx="143.5" cy="492.3" r="6.08" fill="#ff0000"/><circle cx="137.0" cy="571.1" r="6.08" fill="#ff0000"/><circle cx="128.0" cy="649.9" r="6.08" fill="#ff0000"/><circle cx="116.5" cy="728.7" r="6.08" fill="#ff0000"/><circle cx="109.5" cy="807.5" r="6.08" fill="#ff0000"/><circle cx="94.0" cy="1004.5" r="6.08" fill="#ff0000"/><g fill="#0000ff"><polygon points="461.1,28.2 460.9,28.4 460.7,28.6 460.4,28.7 460.2,28.9 459.9,29.0 459.7,29.1 444.7,33.3 444.4,33.3 422.6,37.6 422.5,37.6 398.6,41.0 398.5,41.0 374.6,45.3 374.5,45.3 353.1,49.6 353.0,49.6 336.5,54.8 316.1,61.3 316.0,61.3 306.4,65.3 306.3,65.3 291.6,72.8 291.4,72.9 278.6,80.8 278.4,80.9 261.5,89.8 261.5,89.8 245.6,97.8 245.5,97.8 245.5,97.8 245.5,97.9 245.5,97.9 245.4,97.9 234.0,112.8 233.9,112.9 233.9,113.0 227.4,127.9 227.4,127.9 220.4,144.9 220.4,144.9 220.4,145.0 220.4,145.0 220.4,145.0 220.4,145.0 220.4,145.0 220.4,145.1 220.4,145.1 220.4,145.1 220.4,145.1 220.4,145.1 220.5,145.1 220.5,145.2 220.5,145.2 220.5,145.2 220.5,145.2 220.5,145.2 220.6,145.2 220.6,145.2 220.6,145.2 220.6,145.2 220.6,145.2 220.7,145.2 220.7,145.2 220.7,145.2 220.7,145.2 220.7,145.2 220.7,145.1 220.8,145.1 220.8,145.1 220.8,145.1 220.8,145.0 227.8,128.1 227.8,128.1 234.1,113.4 234.3,113.1 234.5,112.8 245.3,98.7 245.5,98.5 245.7,98.3 245.9,98.1 246.1,98.0 246.3,97.8 261.7,90.2 261.7,90.2 278.7,81.2 278.7,81.1 291.6,73.2 291.8,73.1 306.4,65.7 306.6,65.6 316.1,61.7 316.3,61.6 336.7,55.2 336.7,55.2 353.0,50.0 353.3,50.0 374.6,45.7 374.7,45.7 398.6,41.4 398.7,41.4 422.6,38.0 422.7,38.0 444.6,33.7 444.7,33.7 460.6,29.2 460.7,29.2 460.7,29.2 460.7,29.2 460.7,29.2 460.7,29.1 460.8,29.1 466.7,22.6 466.8,22.5 466.8,22.5 466.8,22.5 466.8,22.5 466.8,22.4 466.8,22.4 466.8,22.4 466.8,22.4 466.8,22.4 466.8,22.4 466.8,22.3 466.8,22.3 466.8,22.3 466.8,22.3 466.7,22.3 466.7,22.3 466.7,22.2 466.7,22.2 466.7,22.2 466.7,22.2 466.6,22.2 466.6,22.2 466.6,22.2 466.6,22.2 466.6,22.2 466.6,22.2 466.5,22.2 466.5,22.2 466.5,22.2 466.5,22.2 466.5,22.3 466.4,22.3 461.1,28.2"/><circle cx="461.6" cy="28.4" r="3.0"/><circle cx="458.2" cy="30.0" r="3.0"/><circle cx="454.2" cy="30.7" r="3.0"/><circle cx="451.6" cy="31.9" r="3.0"/><circle cx="447.9" cy="32.0" r="3.0"/><circle cx="444.3" cy="33.9" r="3.0"/><circle cx="440.5" cy="33.8" r="3.0"/><circle cx="438.1" cy="34.6" r="3.0"/><circle cx="433.7" cy="35.1" r="3.0"/><circle cx="431.1" cy="35.8" r="3.0"/><circle cx="427.1" cy="36.9" r="3.0"/><circle cx="424.1" cy="37.4" r="3.0"/><circle cx="419.8" cy="38.0" r="3.0"/><circle cx="416.3" cy="37.9" r="3.0"/><circle cx="413.0" cy="39.1" r="3.0"/><circle cx="409.6" cy="39.6" r="3.0"/><circle cx="406.0" cy="39.4" r="3.0"/><circle cx="402.4" cy="40.6" r="3.0"/><circle cx="399.9" cy="40.5" r="3.0"/><circle cx="395.7" cy="40.9" r="3.0"/><circle cx="392.7" cy="41.8" r="3.0"/><circle cx="388.7" cy="42.9" r="3.0"/><circle cx="385.8" cy="43.3" r="3.0"/><circle cx="381.8" cy="44.1" r="3.0"/><circle cx="378.8" cy="44.5" r="3.0"/><circle cx="374.9" cy="45.7" r="3.0"/><circle cx="372.3" cy="46.1" r="3.0"/><circle cx="369.0" cy="46.6" r="3.0"/><circle cx="364.8" cy="46.8" r="3.0"/><circle cx="361.7" cy="47.9" r="3.0"/><circle cx="358.0" cy="49.2" r="3.0"/><circle cx="355.1" cy="48.8" r="3.0"/><circle cx="351.7" cy="49.6" r="3.0"/><circle cx="348.1" cy="51.0" r="3.0"/><circle cx="344.9" cy="52.8" r="3.0"/><circle cx="341.3" cy="53.6" r="3.0"/><circle cx="337.4" cy="54.6" r="3.0"/><circle cx="334.1" cy="55.4" r="3.0"/><circle cx="331.0" cy="56.0" r="3.0"/><circle cx="328.2" cy="57.1" r="3.0"/><circle cx="324.2" cy="58.1" r="3.0"/><circle cx="321.4" cy="59.4" r="3.0"/><circle cx="317.3" cy="60.2" r="3.0"/><circle cx="314.2" cy="61.9" r="3.0"/><circle cx="310.7" cy="62.7" r="3.0"/><circle cx="308.3" cy="64.6" r="3.0"/><circle cx="304.5" cy="65.8" r="3.0"/><circle cx="301.3" cy="67.4" r="3.0"/><circle cx="298.5" cy="68.9" r="3.0"/><circle cx="295.1" cy="70.5" r="3.0"/><circle cx="292.1" cy="72.4" r="3.0"/><circle cx="289.8" cy="74.3" r="3.0"/><circle cx="286.3" cy="75.4" r="3.0"/><circle cx="283.0" cy="78.0" r="3.0"/><circle cx="280.3" cy="80.1" r="3.0"/><circle cx="277.9" cy="81.2" r="3.0"/><circle cx="274.1" cy="82.8" r="3.0"/><circle cx="271.4" cy="84.2" r="3.0"/><circle cx="267.8" cy="86.8" r="3.0"/><circle cx="264.8" cy="88.6" r="3.0"/><circle cx="261.8" cy="90.0" r="3.0"/><circle cx="258.7" cy="90.7" r="3.0"/><circle cx="255.7" cy="92.4" r="3.0"/><circle cx="253.0" cy="94.6" r="3.0"/><circle cx="249.4" cy="96.4" r="3.0"/><circle cx="246.3" cy="98.0" r="3.0"/><circle cx="244.1" cy="99.6" r="3.0"/><circle cx="241.5" cy="103.2" r="3.0"/><circle cx="239.1" cy="106.1" r="3.0"/><circle cx="236.9" cy="108.6" r="3.0"/><circle cx="235.4" cy="111.0" r="3.0"/><circle cx="233.6" cy="114.1" r="3.0"/><circle cx="231.9" cy="117.0" r="3.0"/><circle cx="230.1" cy="120.7" r="3.0"/><circle cx="229.7" cy="123.5" r="3.0"/><circle cx="228.3" cy="126.8" r="3.0"/><circle cx="226.2" cy="130.5" r="3.0"/><circle cx="225.7" cy="132.9" r="3.0"/><circle cx="224.3" cy="136.4" r="3.0"/><circle cx="222.8" cy="139.6" r="3.0"/><circle cx="221.7" cy="142.9" r="3.0"/><circle cx="220.8" cy="143.7" r="3.0"/><circle cx="222.0" cy="140.5" r="3.0"/><circle cx="224.2" cy="137.2" r="3.0"/><circle cx="224.7" cy="134.2" r="3.0"/><circle cx="226.0" cy="131.6" r="3.0"/><circle cx="227.2" cy="128.2" r="3.0"/><circle cx="229.0" cy="124.4" r="3.0"/><circle cx="230.3" cy="121.6" r="3.0"/><circle cx="231.7" cy="118.2" r="3.0"/><circle cx="233.3" cy="115.2" r="3.0"/><circle cx="235.3" cy="111.8" r="3.0"/><circle cx="237.3" cy="109.6" r="3.0"/><circle cx="239.1" cy="106.8" r="3.0"/><circle cx="241.0" cy="103.7" r="3.0"/><circle cx="243.4" cy="100.5" r="3.0"/><circle cx="246.0" cy="98.6" r="3.0"/><circle cx="248.9" cy="96.4" r="3.0"/><circle cx="252.5" cy="95.6" r="3.0"/><circle cx="255.3" cy="93.5" r="3.0"/><circle cx="258.5" cy="92.1" r="3.0"/><circle cx="261.6" cy="90.4" r="3.0"/><circle cx="264.8" cy="89.0" r="3.0"/><circle cx="267.8" cy="87.1" r="3.0"/><circle cx="270.6" cy="85.1" r="3.0"/><circle cx="273.8" cy="83.5" r="3.0"/><circle cx="276.9" cy="81.7" r="3.0"/><circle cx="280.5" cy="79.9" r="3.0"/><circle cx="283.4" cy="78.6" r="3.0"/><circle cx="286.4" cy="77.2" r="3.0"/><circle cx="288.5" cy="74.6" r="3.0"/><circle cx="292.5" cy="73.3" r="3.0"/><circle cx="294.5" cy="71.2" r="3.0"/><circle cx="297.7" cy="69.7" r="3.0"/><circle cx="300.8" cy="67.8" r="3.0"/><circle cx="303.9" cy="66.7" r="3.0"/><circle cx="307.9" cy="65.2" r="3.0"/><circle cx="311.0" cy="64.1" r="3.0"/><circle cx="313.6" cy="62.8" r="3.0"/><circle cx="317.4" cy="61.2" r="3.0"/><circle cx="321.3" cy="60.2" r="3.0"/><circle cx="324.3" cy="59.5" r="3.0"/><circle cx="327.4" cy="57.7" r="3.0"/><circle cx="330.4" cy="56.8" r="3.0"/><circle cx="333.7" cy="55.9" r="3.0"/><circle cx="336.9" cy="55.3" r="3.0"/><circle cx="341.1" cy="54.1" r="3.0"/><circle cx="343.6" cy="52.5" r="3.0"/><circle cx="347.9" cy="52.2" r="3.0"/><circle cx="351.1" cy="51.2" r="3.0"/><circle cx="353.8" cy="49.5" r="3.0"/><circle cx="357.5" cy="49.1" r="3.0"/><circle cx="360.9" cy="48.1" r="3.0"/><circle cx="364.8" cy="47.4" r="3.0"/><circle cx="368.0" cy="47.4" r="3.0"/><circle cx="370.9" cy="46.2" r="3.0"/><circle cx="374.6" cy="45.4" r="3.0"/><circle cx="378.7" cy="45.5" r="3.0"/><circle cx="381.2" cy="43.9" r="3.0"/><circle cx="385.2" cy="43.8" r="3.0"/><circle cx="388.0" cy="43.6" r="3.0"/><circle cx="392.5" cy="42.7" r="3.0"/><circle cx="395.0" cy="41.6" r="3.0"/><circle cx="399.3" cy="41.6" r="3.0"/><circle cx="402.3" cy="41.4" r="3.0"/><circle cx="405.3" cy="40.6" r="3.0"/><circle cx="409.8" cy="40.3" r="3.0"/><circle cx="412.3" cy="39.6" r="3.0"/><circle cx="416.4" cy="39.0" r="3.0"/><circle cx="419.4" cy="39.0" r="3.0"/><circle cx="423.8" cy="37.4" r="3.0"/><circle cx="426.7" cy="37.3" r="3.0"/><circle cx="430.1" cy="36.3" r="3.0"/><circle cx="433.2" cy="36.1" r="3.0"/><circle cx="437.0" cy="35.1" r="3.0"/><circle cx="440.4" cy="34.3" r="3.0"/><circle cx="444.4" cy="34.2" r="3.0"/><circle cx="447.0" cy="32.7" r="3.0"/><circle cx="450.7" cy="32.2" r="3.0"/><circle cx="454.5" cy="31.6" r="3.0"/><circle cx="456.9" cy="30.5" r="3.0"/><circle cx="460.2" cy="29.2" r="3.0"/><circle cx="463.4" cy="26.1" r="3.0"/><circle cx="465.1" cy="23.4" r="3.0"/><circle cx="465.7" cy="23.4" r="3.0"/><circle cx="462.8" cy="25.9" r="3.0"/><polygon points="227.9,128.2 221.8,143.1 214.8,161.1 208.8,177.1 208.7,177.3 208.6,177.5 200.2,192.0 191.0,215.6 185.8,242.0 181.8,268.6 177.8,295.4 177.8,295.5 173.7,322.1 169.7,348.8 169.6,349.0 164.3,375.8 164.3,375.8 158.9,402.5 158.9,402.8 155.4,414.5 156.3,415.5 160.8,415.5 162.5,413.9 165.1,388.3 165.1,388.2 169.1,361.4 169.2,361.2 174.5,334.5 174.5,334.5 179.8,307.8 183.8,281.2 183.9,280.9 190.6,254.2 190.6,254.1 198.6,224.7 198.6,224.7 203.9,206.0 209.3,179.4 209.3,179.2 209.4,178.9 217.2,158.9 217.2,158.9 225.2,138.9 225.4,138.5 231.1,128.5 227.9,128.2"/><circle cx="228.4" cy="128.4" r="3.0"/><circle cx="226.9" cy="131.9" r="3.0"/><circle cx="225.0" cy="134.9" r="3.0"/><circle cx="224.4" cy="138.4" r="3.0"/><circle cx="222.7" cy="140.8" r="3.0"/><circle cx="221.2" cy="145.0" r="3.0"/><circle cx="219.5" cy="147.5" r="3.0"/><circle cx="219.3" cy="150.9" r="3.0"/><circle cx="217.1" cy="154.0" r="3.0"/><circle cx="216.7" cy="157.3" r="3.0"/><circle cx="214.8" cy="160.9" r="3.0"/><circle cx="214.0" cy="164.1" r="3.0"/><circle cx="211.9" cy="167.5" r="3.0"/><circle cx="210.7" cy="170.2" r="3.0"/><circle cx="209.6" cy="174.2" r="3.0"/><circle cx="208.5" cy="177.4" r="3.0"/><circle cx="206.6" cy="179.8" r="3.0"/><circle cx="204.7" cy="183.6" r="3.0"/><circle cx="203.9" cy="186.0" r="3.0"/><circle cx="201.4" cy="188.8" r="3.0"/><circle cx="200.2" cy="192.2" r="3.0"/><circle cx="198.3" cy="195.9" r="3.0"/><circle cx="197.6" cy="198.9" r="3.0"/><circle cx="195.8" cy="202.4" r="3.0"/><circle cx="195.0" cy="205.4" r="3.0"/><circle cx="193.3" cy="209.3" r="3.0"/><circle cx="192.8" cy="212.3" r="3.0"/><circle cx="191.7" cy="215.4" r="3.0"/><circle cx="190.2" cy="218.3" r="3.0"/><circle cx="189.8" cy="222.2" r="3.0"/><circle cx="188.9" cy="226.2" r="3.0"/><circle cx="188.7" cy="228.6" r="3.0"/><circle cx="188.1" cy="231.9" r="3.0"/><circle cx="187.1" cy="235.7" r="3.0"/><circle cx="186.5" cy="240.0" r="3.0"/><circle cx="185.7" cy="243.2" r="3.0"/><circle cx="184.6" cy="246.5" r="3.0"/><circle cx="184.1" cy="249.7" r="3.0"/><circle cx="183.9" cy="252.8" r="3.0"/><circle cx="183.8" cy="256.3" r="3.0"/><circle cx="182.7" cy="259.7" r="3.0"/><circle cx="182.7" cy="263.4" r="3.0"/><circle cx="181.4" cy="266.6" r="3.0"/><circle cx="181.1" cy="270.6" r="3.0"/><circle cx="180.4" cy="273.5" r="3.0"/><circle cx="180.6" cy="277.6" r="3.0"/><circle cx="179.5" cy="280.8" r="3.0"/><circle cx="179.0" cy="284.2" r="3.0"/><circle cx="178.7" cy="287.6" r="3.0"/><circle cx="178.0" cy="291.1" r="3.0"/><circle cx="177.6" cy="295.0" r="3.0"/><circle cx="177.8" cy="298.6" r="3.0"/><circle cx="176.7" cy="301.3" r="3.0"/><circle cx="175.9" cy="305.5" r="3.0"/><circle cx="175.6" cy="309.2" r="3.0"/><circle cx="175.7" cy="312.0" r="3.0"/><circle cx="174.5" cy="315.5" r="3.0"/><circle cx="174.3" cy="318.7" r="3.0"/><circle cx="173.3" cy="323.1" r="3.0"/><circle cx="172.9" cy="326.7" r="3.0"/><circle cx="172.4" cy="330.0" r="3.0"/><circle cx="172.0" cy="332.6" r="3.0"/><circle cx="171.6" cy="336.2" r="3.0"/><circle cx="171.5" cy="340.3" r="3.0"/><circle cx="170.5" cy="344.0" r="3.0"/><circle cx="170.0" cy="347.5" r="3.0"/><circle cx="169.6" cy="350.0" r="3.0"/><circle cx="168.4" cy="354.3" r="3.0"/><circle cx="167.5" cy="357.9" r="3.0"/><circle cx="166.8" cy="361.0" r="3.0"/><circle cx="166.8" cy="364.1" r="3.0"/><circle cx="166.1" cy="367.7" r="3.0"/><circle cx="165.1" cy="370.8" r="3.0"/><circle cx="164.1" cy="374.7" r="3.0"/><circle cx="164.4" cy="377.8" r="3.0"/><circle cx="163.6" cy="381.3" r="3.0"/><circle cx="162.2" cy="385.2" r="3.0"/><circle cx="162.3" cy="387.8" r="3.0"/><circle cx="161.6" cy="391.5" r="3.0"/><circle cx="160.8" cy="394.9" r="3.0"/><circle cx="160.3" cy="398.4" r="3.0"/><circle cx="158.7" cy="401.5" r="3.0"/><circle cx="157.6" cy="404.9" r="3.0"/><circle cx="157.5" cy="408.2" r="3.0"/><circle cx="155.6" cy="411.8" r="3.0"/><circle cx="155.6" cy="415.6" r="3.0"/><circle cx="158.9" cy="415.7" r="3.0"/><circle cx="162.2" cy="413.6" r="3.0"/><circle cx="162.5" cy="410.6" r="3.0"/><circle cx="162.9" cy="406.9" r="3.0"/><circle cx="163.4" cy="403.6" r="3.0"/><circle cx="164.2" cy="399.8" r="3.0"/><circle cx="164.4" cy="396.9" r="3.0"/><circle cx="164.4" cy="393.4" r="3.0"/><circle cx="164.5" cy="389.6" r="3.0"/><circle cx="165.3" cy="385.7" r="3.0"/><circle cx="166.1" cy="383.1" r="3.0"/><circle cx="166.5" cy="379.0" r="3.0"/><circle cx="167.5" cy="376.3" r="3.0"/><circle cx="167.7" cy="372.3" r="3.0"/><circle cx="168.2" cy="369.0" r="3.0"/><circle cx="168.8" cy="365.4" r="3.0"/><circle cx="169.4" cy="362.1" r="3.0"/><circle cx="169.9" cy="358.4" r="3.0"/><circle cx="170.2" cy="354.6" r="3.0"/><circle cx="171.1" cy="351.3" r="3.0"/><circle cx="171.7" cy="347.7" r="3.0"/><circle cx="172.9" cy="344.2" r="3.0"/><circle cx="173.6" cy="341.3" r="3.0"/><circle cx="174.3" cy="338.2" r="3.0"/><circle cx="174.1" cy="334.0" r="3.0"/><circle cx="175.8" cy="331.1" r="3.0"/><circle cx="175.4" cy="327.1" r="3.0"/><circle cx="176.1" cy="323.8" r="3.0"/><circle cx="176.8" cy="320.0" r="3.0"/><circle cx="177.4" cy="317.1" r="3.0"/><circle cx="178.9" cy="313.7" r="3.0"/><circle cx="179.6" cy="310.4" r="3.0"/><circle cx="179.6" cy="307.0" r="3.0"/><circle cx="180.5" cy="303.2" r="3.0"/><circle cx="181.6" cy="299.8" r="3.0"/><circle cx="181.8" cy="296.7" r="3.0"/><circle cx="182.1" cy="292.5" r="3.0"/><circle cx="182.2" cy="289.2" r="3.0"/><circle cx="182.7" cy="285.8" r="3.0"/><circle cx="183.1" cy="282.8" r="3.0"/><circle cx="184.7" cy="279.2" r="3.0"/><circle cx="184.7" cy="275.3" r="3.0"/><circle cx="186.5" cy="272.7" r="3.0"/><circle cx="187.2" cy="269.3" r="3.0"/><circle cx="187.4" cy="265.2" r="3.0"/><circle cx="188.5" cy="262.0" r="3.0"/><circle cx="189.3" cy="258.3" r="3.0"/><circle cx="190.7" cy="254.8" r="3.0"/><circle cx="191.3" cy="252.2" r="3.0"/><circle cx="191.7" cy="248.3" r="3.0"/><circle cx="192.9" cy="244.8" r="3.0"/><circle cx="194.5" cy="242.1" r="3.0"/><circle cx="194.5" cy="237.8" r="3.0"/><circle cx="195.9" cy="234.9" r="3.0"/><circle cx="196.2" cy="232.0" r="3.0"/><circle cx="198.1" cy="228.2" r="3.0"/><circle cx="198.1" cy="224.4" r="3.0"/><circle cx="200.0" cy="221.6" r="3.0"/><circle cx="200.4" cy="218.5" r="3.0"/><circle cx="200.9" cy="214.8" r="3.0"/><circle cx="202.8" cy="211.6" r="3.0"/><circle cx="202.9" cy="208.1" r="3.0"/><circle cx="204.3" cy="204.6" r="3.0"/><circle cx="204.5" cy="201.6" r="3.0"/><circle cx="206.1" cy="197.1" r="3.0"/><circle cx="206.3" cy="194.2" r="3.0"/><circle cx="206.9" cy="190.5" r="3.0"/><circle cx="207.4" cy="187.5" r="3.0"/><circle cx="208.4" cy="183.8" r="3.0"/><circle cx="209.1" cy="180.1" r="3.0"/><circle cx="210.6" cy="177.4" r="3.0"/><circle cx="211.1" cy="173.5" r="3.0"/><circle cx="212.7" cy="170.7" r="3.0"/><circle cx="214.4" cy="167.8" r="3.0"/><circle cx="214.7" cy="164.4" r="3.0"/><circle cx="215.9" cy="160.8" r="3.0"/><circle cx="218.1" cy="157.1" r="3.0"/><circle cx="218.8" cy="153.7" r="3.0"/><circle cx="220.3" cy="151.3" r="3.0"/><circle cx="221.1" cy="148.0" r="3.0"/><circle cx="222.9" cy="144.9" r="3.0"/><circle cx="224.4" cy="141.1" r="3.0"/><circle cx="225.5" cy="138.4" r="3.0"/><circle cx="227.4" cy="135.1" r="3.0"/><circle cx="229.4" cy="132.2" r="3.0"/><circle cx="230.7" cy="128.3" r="3.0"/></g><polyline points="209.0,137.6 205.0,177.0 194.0,216.4 185.0,255.8 177.0,295.2 169.5,334.6 153.0,413.4" fill="none" stroke="#ff0000" stroke-width="1.6" stroke-linejoin="round"/><polyline points="473.0,19.4 473.0,21.0 473.0,22.6 473.0,24.1 473.0,25.7 473.0,27.3 473.0,28.9 473.0,31.2 455.5,35.2 430.0,39.1 405.0,43.0 393.0,47.0 382.0,50.9 368.0,54.9 353.2,58.8 323.6,66.7 301.0,74.6 283.6,82.4 270.1,90.3 260.5,98.2 243.0,117.9 221.3,137.6 210.0,177.0 196.0,216.4 187.0,255.8 178.9,295.2 171.0,334.6 157.1,413.4 144.5,492.3 134.5,571.1 125.5,649.9 117.5,728.7 111.7,807.5 96.0,1004.5" fill="none" stroke="#008000" stroke-width="2.6" stroke-linejoin="round" stroke-linecap="butt"/><circle cx="473.0" cy="19.4" r="6.08" fill="#008000"/><circle cx="473.0" cy="21.0" r="6.08" fill="#008000"/><circle cx="473.0" cy="22.6" r="6.08" fill="#008000"/><circle cx="473.0" cy="24.1" r="6.08" fill="#008000"/><circle cx="473.0" cy="25.7" r="6.08" fill="#008000"/><circle cx="473.0" cy="27.3" r="6.08" fill="#008000"/><circle cx="473.0" cy="28.9" r="6.08" fill="#008000"/><circle cx="473.0" cy="31.2" r="6.08" fill="#008000"/><circle cx="455.5" cy="35.2" r="6.08" fill="#008000"/><circle cx="430.0" cy="39.1" r="6.08" fill="#008000"/><circle cx="405.0" cy="43.0" r="6.08" fill="#008000"/><circle cx="393.0" cy="47.0" r="6.08" fill="#008000"/><circle cx="382.0" cy="50.9" r="6.08" fill="#008000"/><circle cx="368.0" cy="54.9" r="6.08" fill="#008000"/><circle cx="353.2" cy="58.8" r="6.08" fill="#008000"/><circle cx="323.6" cy="66.7" r="6.08" fill="#008000"/><circle cx="301.0" cy="74.6" r="6.08" fill="#008000"/><circle cx="283.6" cy="82.4" r="6.08" fill="#008000"/><circle cx="270.1" cy="90.3" r="6.08" fill="#008000"/><circle cx="260.5" cy="98.2" r="6.08" fill="#008000"/><circle cx="243.0" cy="117.9" r="6.08" fill="#008000"/><circle cx="221.3" cy="137.6" r="6.08" fill="#008000"/><circle cx="210.0" cy="177.0" r="6.08" fill="#008000"/><circle cx="196.0" cy="216.4" r="6.08" fill="#008000"/><circle cx="187.0" cy="255.8" r="6.08" fill="#008000"/><circle cx="178.9" cy="295.2" r="6.08" fill="#008000"/><circle cx="171.0" cy="334.6" r="6.08" fill="#008000"/><circle cx="157.1" cy="413.4" r="6.08" fill="#008000"/><circle cx="144.5" cy="492.3" r="6.08" fill="#008000"/><circle cx="134.5" cy="571.1" r="6.08" fill="#008000"/><circle cx="125.5" cy="649.9" r="6.08" fill="#008000"/><circle cx="117.5" cy="728.7" r="6.08" fill="#008000"/><circle cx="111.7" cy="807.5" r="6.08" fill="#008000"/><circle cx="96.0" cy="1004.5" r="6.08" fill="#008000"/><polyline points="484.5,19.8 484.5,20.6 484.5,21.5 484.5,22.4 484.5,23.4 484.5,24.5 484.5,25.6 484.5,26.9 484.5,28.4 483.5,30.0 482.5,31.9 481.0,34.0 479.0,36.4 472.3,39.3 444.2,42.6 411.6,46.5 379.7,51.2 350.9,56.7 324.4,63.3 301.5,71.3 282.0,80.8 262.3,92.2 247.7,105.9 238.5,122.4 232.4,142.2 225.6,166.1 215.7,194.7 204.6,229.1 193.5,270.1 178.5,319.0 169.0,377.1 154.3,445.8 140.2,526.6 132.0,621.0 123.9,730.5" fill="none" stroke="#ff00ff" stroke-width="2.7" stroke-linejoin="round" stroke-linecap="butt"/><circle cx="484.5" cy="19.8" r="6.08" fill="#ff00ff"/><circle cx="484.5" cy="20.6" r="6.08" fill="#ff00ff"/><circle cx="484.5" cy="21.5" r="6.08" fill="#ff00ff"/><circle cx="484.5" cy="22.4" r="6.08" fill="#ff00ff"/><circle cx="484.5" cy="23.4" r="6.08" fill="#ff00ff"/><circle cx="484.5" cy="24.5" r="6.08" fill="#ff00ff"/><circle cx="484.5" cy="25.6" r="6.08" fill="#ff00ff"/><circle cx="484.5" cy="26.9" r="6.08" fill="#ff00ff"/><circle cx="484.5" cy="28.4" r="6.08" fill="#ff00ff"/><circle cx="483.5" cy="30.0" r="6.08" fill="#ff00ff"/><circle cx="482.5" cy="31.9" r="6.08" fill="#ff00ff"/><circle cx="481.0" cy="34.0" r="6.08" fill="#ff00ff"/><circle cx="479.0" cy="36.4" r="6.08" fill="#ff00ff"/><circle cx="472.3" cy="39.3" r="6.08" fill="#ff00ff"/><circle cx="444.2" cy="42.6" r="6.08" fill="#ff00ff"/><circle cx="411.6" cy="46.5" r="6.08" fill="#ff00ff"/><circle cx="379.7" cy="51.2" r="6.08" fill="#ff00ff"/><circle cx="350.9" cy="56.7" r="6.08" fill="#ff00ff"/><circle cx="324.4" cy="63.3" r="6.08" fill="#ff00ff"/><circle cx="301.5" cy="71.3" r="6.08" fill="#ff00ff"/><circle cx="282.0" cy="80.8" r="6.08" fill="#ff00ff"/><circle cx="262.3" cy="92.2" r="6.08" fill="#ff00ff"/><circle cx="247.7" cy="105.9" r="6.08" fill="#ff00ff"/><circle cx="238.5" cy="122.4" r="6.08" fill="#ff00ff"/><circle cx="232.4" cy="142.2" r="6.08" fill="#ff00ff"/><circle cx="225.6" cy="166.1" r="6.08" fill="#ff00ff"/><circle cx="215.7" cy="194.7" r="6.08" fill="#ff00ff"/><circle cx="204.6" cy="229.1" r="6.08" fill="#ff00ff"/><circle cx="193.5" cy="270.1" r="6.08" fill="#ff00ff"/><circle cx="178.5" cy="319.0" r="6.08" fill="#ff00ff"/><circle cx="169.0" cy="377.1" r="6.08" fill="#ff00ff"/><circle cx="154.3" cy="445.8" r="6.08" fill="#ff00ff"/><circle cx="140.2" cy="526.6" r="6.08" fill="#ff00ff"/><circle cx="132.0" cy="621.0" r="6.08" fill="#ff00ff"/><circle cx="123.9" cy="730.5" r="6.08" fill="#ff00ff"/></g>
<g clip-path="url(#c1)"><g fill="#00ffff"><polygon points="672.8,22.8 671.8,27.4 671.7,27.7 671.6,28.1 671.5,28.4 671.3,28.7 671.1,28.9 670.8,29.2 670.5,29.4 670.2,29.6 669.9,29.8 656.9,35.9 652.9,39.5 652.6,39.8 652.3,40.0 645.9,43.6 648.1,48.6 652.1,56.8 661.5,66.3 671.4,70.9 671.5,70.9 682.9,76.3 683.3,76.6 702.6,89.4 702.6,89.4 713.9,97.2 721.3,101.9 737.5,106.9 752.8,110.7 753.1,110.8 753.4,110.9 772.6,119.9 786.2,124.8 786.4,124.9 786.7,125.1 786.9,125.2 796.9,132.2 809.9,141.2 810.3,141.5 822.3,152.5 822.6,152.8 822.8,153.1 823.0,153.4 831.0,168.4 831.2,168.7 841.1,193.7 850.9,214.8 851.0,215.0 851.1,215.3 851.2,215.6 851.2,215.9 854.0,248.9 860.2,269.0 860.3,269.0 865.1,284.8 865.1,285.1 865.2,285.4 865.2,285.7 865.2,286.0 865.2,286.3 865.1,286.6 862.6,296.7 870.3,317.6 875.8,325.2 886.2,317.5 886.2,292.1 878.1,273.2 878.0,272.9 870.8,250.7 858.8,217.1 858.8,217.0 848.8,186.1 841.9,166.4 832.3,150.1 822.8,140.6 808.3,130.9 793.6,123.1 758.7,109.2 758.4,109.0 743.4,101.0 743.1,100.8 742.8,100.6 742.5,100.3 732.5,89.3 732.3,89.1 732.1,88.8 725.2,78.1 721.5,76.2 711.7,75.4 711.4,75.3 711.1,75.3 710.8,75.2 710.5,75.0 698.5,69.0 698.2,68.9 697.9,68.7 687.9,60.7 687.6,60.4 687.4,60.2 687.2,60.0 687.1,59.7 686.9,59.4 680.9,46.4 680.8,46.1 680.7,45.7 678.7,36.7 678.6,36.4 677.0,22.8 672.8,22.8"/><circle cx="672.6" cy="23.0" r="3.4"/><circle cx="673.3" cy="25.7" r="3.4"/><circle cx="671.3" cy="28.8" r="3.4"/><circle cx="668.1" cy="30.3" r="3.4"/><circle cx="666.5" cy="32.3" r="3.4"/><circle cx="662.4" cy="32.3" r="3.4"/><circle cx="659.6" cy="34.9" r="3.4"/><circle cx="658.5" cy="34.2" r="3.4"/><circle cx="656.8" cy="38.3" r="3.4"/><circle cx="653.7" cy="39.4" r="3.4"/><circle cx="650.0" cy="39.5" r="3.4"/><circle cx="648.3" cy="41.1" r="3.4"/><circle cx="645.3" cy="43.2" r="3.4"/><circle cx="646.0" cy="46.5" r="3.4"/><circle cx="648.3" cy="50.3" r="3.4"/><circle cx="649.8" cy="52.4" r="3.4"/><circle cx="651.1" cy="55.2" r="3.4"/><circle cx="652.5" cy="56.8" r="3.4"/><circle cx="656.0" cy="60.8" r="3.4"/><circle cx="657.7" cy="62.1" r="3.4"/><circle cx="658.5" cy="63.0" r="3.4"/><circle cx="660.5" cy="64.7" r="3.4"/><circle cx="664.4" cy="67.0" r="3.4"/><circle cx="667.3" cy="68.3" r="3.4"/><circle cx="670.3" cy="70.7" r="3.4"/><circle cx="670.6" cy="70.4" r="3.4"/><circle cx="675.6" cy="72.3" r="3.4"/><circle cx="678.5" cy="73.4" r="3.4"/><circle cx="678.9" cy="75.3" r="3.4"/><circle cx="683.4" cy="75.7" r="3.4"/><circle cx="684.2" cy="77.4" r="3.4"/><circle cx="689.0" cy="80.2" r="3.4"/><circle cx="689.3" cy="80.5" r="3.4"/><circle cx="691.7" cy="81.7" r="3.4"/><circle cx="696.0" cy="83.7" r="3.4"/><circle cx="697.9" cy="86.0" r="3.4"/><circle cx="699.5" cy="88.4" r="3.4"/><circle cx="701.8" cy="89.9" r="3.4"/><circle cx="704.2" cy="91.0" r="3.4"/><circle cx="707.0" cy="92.3" r="3.4"/><circle cx="711.4" cy="95.4" r="3.4"/><circle cx="712.2" cy="97.3" r="3.4"/><circle cx="714.4" cy="97.7" r="3.4"/><circle cx="718.6" cy="100.0" r="3.4"/><circle cx="719.2" cy="102.5" r="3.4"/><circle cx="722.2" cy="101.8" r="3.4"/><circle cx="726.5" cy="102.8" r="3.4"/><circle cx="728.2" cy="103.1" r="3.4"/><circle cx="730.5" cy="105.3" r="3.4"/><circle cx="733.8" cy="106.2" r="3.4"/><circle cx="737.0" cy="106.7" r="3.4"/><circle cx="741.4" cy="107.6" r="3.4"/><circle cx="743.3" cy="109.3" r="3.4"/><circle cx="745.2" cy="108.1" r="3.4"/><circle cx="750.0" cy="110.6" r="3.4"/><circle cx="751.2" cy="109.7" r="3.4"/><circle cx="755.3" cy="112.7" r="3.4"/><circle cx="756.6" cy="113.9" r="3.4"/><circle cx="761.1" cy="114.3" r="3.4"/><circle cx="762.7" cy="114.3" r="3.4"/><circle cx="764.4" cy="117.8" r="3.4"/><circle cx="767.6" cy="118.4" r="3.4"/><circle cx="770.4" cy="120.0" r="3.4"/><circle cx="774.1" cy="119.8" r="3.4"/><circle cx="775.8" cy="121.9" r="3.4"/><circle cx="778.3" cy="121.6" r="3.4"/><circle cx="782.4" cy="124.3" r="3.4"/><circle cx="785.4" cy="123.8" r="3.4"/><circle cx="788.8" cy="125.0" r="3.4"/><circle cx="789.0" cy="126.9" r="3.4"/><circle cx="792.5" cy="128.1" r="3.4"/><circle cx="794.3" cy="130.6" r="3.4"/><circle cx="797.8" cy="131.7" r="3.4"/><circle cx="799.7" cy="135.4" r="3.4"/><circle cx="803.8" cy="136.5" r="3.4"/><circle cx="805.5" cy="138.0" r="3.4"/><circle cx="806.5" cy="138.3" r="3.4"/><circle cx="808.7" cy="142.3" r="3.4"/><circle cx="812.7" cy="144.4" r="3.4"/><circle cx="813.1" cy="145.6" r="3.4"/><circle cx="816.6" cy="147.9" r="3.4"/><circle cx="818.4" cy="150.6" r="3.4"/><circle cx="819.9" cy="151.5" r="3.4"/><circle cx="823.7" cy="154.6" r="3.4"/><circle cx="825.1" cy="156.7" r="3.4"/><circle cx="826.7" cy="159.9" r="3.4"/><circle cx="826.9" cy="162.0" r="3.4"/><circle cx="829.8" cy="165.1" r="3.4"/><circle cx="829.9" cy="167.5" r="3.4"/><circle cx="832.4" cy="169.7" r="3.4"/><circle cx="832.9" cy="172.0" r="3.4"/><circle cx="833.9" cy="175.3" r="3.4"/><circle cx="833.7" cy="178.2" r="3.4"/><circle cx="837.2" cy="181.6" r="3.4"/><circle cx="837.6" cy="183.1" r="3.4"/><circle cx="838.8" cy="186.4" r="3.4"/><circle cx="839.1" cy="189.9" r="3.4"/><circle cx="839.3" cy="192.4" r="3.4"/><circle cx="840.3" cy="194.8" r="3.4"/><circle cx="842.8" cy="196.6" r="3.4"/><circle cx="844.6" cy="200.0" r="3.4"/><circle cx="845.6" cy="203.8" r="3.4"/><circle cx="845.9" cy="204.2" r="3.4"/><circle cx="847.3" cy="208.7" r="3.4"/><circle cx="848.3" cy="210.1" r="3.4"/><circle cx="851.4" cy="214.1" r="3.4"/><circle cx="851.1" cy="217.5" r="3.4"/><circle cx="851.0" cy="219.9" r="3.4"/><circle cx="851.0" cy="222.3" r="3.4"/><circle cx="852.8" cy="226.5" r="3.4"/><circle cx="853.2" cy="228.2" r="3.4"/><circle cx="852.7" cy="231.0" r="3.4"/><circle cx="851.8" cy="234.4" r="3.4"/><circle cx="853.9" cy="238.4" r="3.4"/><circle cx="853.8" cy="241.6" r="3.4"/><circle cx="852.9" cy="242.6" r="3.4"/><circle cx="853.6" cy="245.8" r="3.4"/><circle cx="853.4" cy="249.2" r="3.4"/><circle cx="855.3" cy="252.3" r="3.4"/><circle cx="855.4" cy="256.0" r="3.4"/><circle cx="858.1" cy="257.9" r="3.4"/><circle cx="856.6" cy="259.6" r="3.4"/><circle cx="859.6" cy="262.5" r="3.4"/><circle cx="860.0" cy="266.8" r="3.4"/><circle cx="859.9" cy="270.2" r="3.4"/><circle cx="860.0" cy="271.4" r="3.4"/><circle cx="862.0" cy="274.0" r="3.4"/><circle cx="863.9" cy="277.4" r="3.4"/><circle cx="863.0" cy="279.8" r="3.4"/><circle cx="865.1" cy="283.7" r="3.4"/><circle cx="865.4" cy="287.2" r="3.4"/><circle cx="865.1" cy="290.9" r="3.4"/><circle cx="864.1" cy="291.8" r="3.4"/><circle cx="862.8" cy="294.7" r="3.4"/><circle cx="861.9" cy="298.3" r="3.4"/><circle cx="864.8" cy="300.4" r="3.4"/><circle cx="864.7" cy="303.6" r="3.4"/><circle cx="866.8" cy="306.9" r="3.4"/><circle cx="867.7" cy="310.3" r="3.4"/><circle cx="868.1" cy="313.2" r="3.4"/><circle cx="870.5" cy="314.2" r="3.4"/><circle cx="871.8" cy="318.6" r="3.4"/><circle cx="871.4" cy="320.3" r="3.4"/><circle cx="874.4" cy="324.0" r="3.4"/><circle cx="875.6" cy="325.3" r="3.4"/><circle cx="879.3" cy="324.1" r="3.4"/><circle cx="881.9" cy="321.4" r="3.4"/><circle cx="883.5" cy="319.0" r="3.4"/><circle cx="886.1" cy="318.8" r="3.4"/><circle cx="886.6" cy="315.8" r="3.4"/><circle cx="885.5" cy="313.3" r="3.4"/><circle cx="887.4" cy="310.5" r="3.4"/><circle cx="886.3" cy="307.0" r="3.4"/><circle cx="885.7" cy="304.3" r="3.4"/><circle cx="887.1" cy="299.9" r="3.4"/><circle cx="885.1" cy="297.1" r="3.4"/><circle cx="886.3" cy="294.9" r="3.4"/><circle cx="885.8" cy="290.1" r="3.4"/><circle cx="885.5" cy="287.4" r="3.4"/><circle cx="884.3" cy="284.9" r="3.4"/><circle cx="881.9" cy="283.8" r="3.4"/><circle cx="880.2" cy="279.4" r="3.4"/><circle cx="880.0" cy="278.1" r="3.4"/><circle cx="879.6" cy="275.2" r="3.4"/><circle cx="878.8" cy="271.9" r="3.4"/><circle cx="877.9" cy="268.0" r="3.4"/><circle cx="875.1" cy="266.3" r="3.4"/><circle cx="874.3" cy="264.0" r="3.4"/><circle cx="874.3" cy="260.6" r="3.4"/><circle cx="873.9" cy="257.8" r="3.4"/><circle cx="871.6" cy="254.5" r="3.4"/><circle cx="872.1" cy="253.0" r="3.4"/><circle cx="869.5" cy="250.0" r="3.4"/><circle cx="870.4" cy="246.3" r="3.4"/><circle cx="868.4" cy="242.7" r="3.4"/><circle cx="867.3" cy="240.6" r="3.4"/><circle cx="866.4" cy="236.6" r="3.4"/><circle cx="866.4" cy="235.0" r="3.4"/><circle cx="863.9" cy="232.9" r="3.4"/><circle cx="863.3" cy="229.3" r="3.4"/><circle cx="862.6" cy="225.3" r="3.4"/><circle cx="861.2" cy="223.4" r="3.4"/><circle cx="861.3" cy="221.9" r="3.4"/><circle cx="858.5" cy="217.9" r="3.4"/><circle cx="857.2" cy="215.0" r="3.4"/><circle cx="858.0" cy="213.3" r="3.4"/><circle cx="856.2" cy="208.9" r="3.4"/><circle cx="854.6" cy="206.9" r="3.4"/><circle cx="855.6" cy="202.7" r="3.4"/><circle cx="854.3" cy="199.6" r="3.4"/><circle cx="851.8" cy="197.3" r="3.4"/><circle cx="852.2" cy="194.7" r="3.4"/><circle cx="850.4" cy="192.6" r="3.4"/><circle cx="848.8" cy="190.0" r="3.4"/><circle cx="847.9" cy="186.6" r="3.4"/><circle cx="847.3" cy="182.9" r="3.4"/><circle cx="847.0" cy="180.7" r="3.4"/><circle cx="845.6" cy="177.8" r="3.4"/><circle cx="845.0" cy="174.3" r="3.4"/><circle cx="843.2" cy="172.7" r="3.4"/><circle cx="843.3" cy="169.6" r="3.4"/><circle cx="842.9" cy="167.0" r="3.4"/><circle cx="841.4" cy="163.4" r="3.4"/><circle cx="839.6" cy="162.3" r="3.4"/><circle cx="838.5" cy="158.4" r="3.4"/><circle cx="835.5" cy="157.4" r="3.4"/><circle cx="833.7" cy="155.0" r="3.4"/><circle cx="833.9" cy="150.2" r="3.4"/><circle cx="830.3" cy="149.4" r="3.4"/><circle cx="828.3" cy="145.6" r="3.4"/><circle cx="827.6" cy="144.4" r="3.4"/><circle cx="825.4" cy="141.5" r="3.4"/><circle cx="822.2" cy="140.9" r="3.4"/><circle cx="818.7" cy="137.9" r="3.4"/><circle cx="817.9" cy="138.1" r="3.4"/><circle cx="816.2" cy="134.4" r="3.4"/><circle cx="812.5" cy="134.4" r="3.4"/><circle cx="810.0" cy="132.5" r="3.4"/><circle cx="806.6" cy="129.4" r="3.4"/><circle cx="803.7" cy="127.9" r="3.4"/><circle cx="802.2" cy="127.7" r="3.4"/><circle cx="799.6" cy="125.3" r="3.4"/><circle cx="796.0" cy="124.0" r="3.4"/><circle cx="795.0" cy="124.7" r="3.4"/><circle cx="792.5" cy="121.2" r="3.4"/><circle cx="787.5" cy="122.3" r="3.4"/><circle cx="785.7" cy="120.7" r="3.4"/><circle cx="782.6" cy="118.8" r="3.4"/><circle cx="780.3" cy="117.6" r="3.4"/><circle cx="777.7" cy="115.4" r="3.4"/><circle cx="775.2" cy="116.4" r="3.4"/><circle cx="771.0" cy="114.3" r="3.4"/><circle cx="769.7" cy="113.0" r="3.4"/><circle cx="765.5" cy="111.3" r="3.4"/><circle cx="763.5" cy="109.8" r="3.4"/><circle cx="761.7" cy="110.7" r="3.4"/><circle cx="758.5" cy="109.7" r="3.4"/><circle cx="755.6" cy="107.1" r="3.4"/><circle cx="752.9" cy="105.9" r="3.4"/><circle cx="751.3" cy="105.3" r="3.4"/><circle cx="746.7" cy="104.2" r="3.4"/><circle cx="745.3" cy="102.4" r="3.4"/><circle cx="743.1" cy="99.8" r="3.4"/><circle cx="741.3" cy="98.8" r="3.4"/><circle cx="738.7" cy="96.3" r="3.4"/><circle cx="736.9" cy="93.1" r="3.4"/><circle cx="734.7" cy="90.0" r="3.4"/><circle cx="731.8" cy="88.8" r="3.4"/><circle cx="729.3" cy="86.0" r="3.4"/><circle cx="729.3" cy="84.2" r="3.4"/><circle cx="726.6" cy="82.5" r="3.4"/><circle cx="726.1" cy="78.4" r="3.4"/><circle cx="723.7" cy="77.3" r="3.4"/><circle cx="720.6" cy="75.9" r="3.4"/><circle cx="718.8" cy="76.3" r="3.4"/><circle cx="715.0" cy="76.3" r="3.4"/><circle cx="712.7" cy="74.1" r="3.4"/><circle cx="709.0" cy="74.8" r="3.4"/><circle cx="705.4" cy="72.6" r="3.4"/><circle cx="702.2" cy="70.7" r="3.4"/><circle cx="700.4" cy="69.1" r="3.4"/><circle cx="697.4" cy="69.8" r="3.4"/><circle cx="695.8" cy="66.9" r="3.4"/><circle cx="694.5" cy="65.2" r="3.4"/><circle cx="692.3" cy="63.5" r="3.4"/><circle cx="689.4" cy="60.2" r="3.4"/><circle cx="687.0" cy="59.7" r="3.4"/><circle cx="684.3" cy="57.4" r="3.4"/><circle cx="683.3" cy="53.5" r="3.4"/><circle cx="682.1" cy="50.8" r="3.4"/><circle cx="682.0" cy="47.0" r="3.4"/><circle cx="681.7" cy="45.1" r="3.4"/><circle cx="680.0" cy="42.6" r="3.4"/><circle cx="678.9" cy="38.9" r="3.4"/><circle cx="679.0" cy="36.7" r="3.4"/><circle cx="677.7" cy="34.1" r="3.4"/><circle cx="677.4" cy="29.3" r="3.4"/><circle cx="676.9" cy="26.4" r="3.4"/><circle cx="676.3" cy="25.2" r="3.4"/><circle cx="675.5" cy="23.8" r="3.4"/><polygon points="897.9,371.4 897.4,375.0 901.3,399.2 901.3,399.2 900.1,375.8 897.9,371.4"/><circle cx="897.8" cy="371.8" r="3.4"/><circle cx="897.9" cy="373.5" r="3.4"/><circle cx="896.6" cy="377.3" r="3.4"/><circle cx="897.8" cy="381.5" r="3.4"/><circle cx="899.3" cy="384.0" r="3.4"/><circle cx="899.5" cy="387.3" r="3.4"/><circle cx="898.9" cy="389.8" r="3.4"/><circle cx="899.5" cy="394.1" r="3.4"/><circle cx="899.7" cy="397.0" r="3.4"/><circle cx="900.2" cy="399.6" r="3.4"/><circle cx="900.7" cy="395.7" r="3.4"/><circle cx="901.9" cy="391.5" r="3.4"/><circle cx="899.7" cy="390.7" r="3.4"/><circle cx="900.7" cy="385.5" r="3.4"/><circle cx="901.8" cy="384.6" r="3.4"/><circle cx="899.4" cy="380.1" r="3.4"/><circle cx="899.3" cy="376.6" r="3.4"/><circle cx="899.6" cy="373.3" r="3.4"/></g><g fill="#0000ff"></g><polyline points="717.6,19.4 717.6,21.0 717.6,22.6 717.6,24.1 717.6,25.7 717.6,27.3 717.6,28.9 717.6,31.2 716.6,35.2 712.9,39.1 707.6,43.0 703.0,47.0 698.5,50.9 694.1,54.9 689.7,58.8 692.2,66.7 704.6,74.6 724.4,82.4 744.4,90.3 763.8,98.2 801.3,117.9 811.2,137.6 826.2,177.0 850.8,216.4 857.7,255.8 866.5,295.2 875.5,334.6 887.5,413.4 901.1,492.3 915.5,571.1 924.3,649.9 931.5,728.7 933.9,807.5 936.0,1004.5" fill="none" stroke="#ff0000" stroke-width="9.5" stroke-linejoin="round"/><circle cx="717.6" cy="19.4" r="6.08" fill="#ff0000"/><circle cx="717.6" cy="21.0" r="6.08" fill="#ff0000"/><circle cx="717.6" cy="22.6" r="6.08" fill="#ff0000"/><circle cx="717.6" cy="24.1" r="6.08" fill="#ff0000"/><circle cx="717.6" cy="25.7" r="6.08" fill="#ff0000"/><circle cx="717.6" cy="27.3" r="6.08" fill="#ff0000"/><circle cx="717.6" cy="28.9" r="6.08" fill="#ff0000"/><circle cx="717.6" cy="31.2" r="6.08" fill="#ff0000"/><circle cx="716.6" cy="35.2" r="6.08" fill="#ff0000"/><circle cx="712.9" cy="39.1" r="6.08" fill="#ff0000"/><circle cx="707.6" cy="43.0" r="6.08" fill="#ff0000"/><circle cx="703.0" cy="47.0" r="6.08" fill="#ff0000"/><circle cx="698.5" cy="50.9" r="6.08" fill="#ff0000"/><circle cx="694.1" cy="54.9" r="6.08" fill="#ff0000"/><circle cx="689.7" cy="58.8" r="6.08" fill="#ff0000"/><circle cx="692.2" cy="66.7" r="6.08" fill="#ff0000"/><circle cx="704.6" cy="74.6" r="6.08" fill="#ff0000"/><circle cx="724.4" cy="82.4" r="6.08" fill="#ff0000"/><circle cx="744.4" cy="90.3" r="6.08" fill="#ff0000"/><circle cx="763.8" cy="98.2" r="6.08" fill="#ff0000"/><circle cx="801.3" cy="117.9" r="6.08" fill="#ff0000"/><circle cx="811.2" cy="137.6" r="6.08" fill="#ff0000"/><circle cx="826.2" cy="177.0" r="6.08" fill="#ff0000"/><circle cx="850.8" cy="216.4" r="6.08" fill="#ff0000"/><circle cx="857.7" cy="255.8" r="6.08" fill="#ff0000"/><circle cx="866.5" cy="295.2" r="6.08" fill="#ff0000"/><circle cx="875.5" cy="334.6" r="6.08" fill="#ff0000"/><circle cx="887.5" cy="413.4" r="6.08" fill="#ff0000"/><circle cx="901.1" cy="492.3" r="6.08" fill="#ff0000"/><circle cx="915.5" cy="571.1" r="6.08" fill="#ff0000"/><circle cx="924.3" cy="649.9" r="6.08" fill="#ff0000"/><circle cx="931.5" cy="728.7" r="6.08" fill="#ff0000"/><circle cx="933.9" cy="807.5" r="6.08" fill="#ff0000"/><circle cx="936.0" cy="1004.5" r="6.08" fill="#ff0000"/><g fill="#0000ff"><polygon points="674.7,22.4 674.7,36.0 674.7,36.3 674.6,36.6 674.6,36.8 674.5,37.1 674.4,37.4 674.2,37.6 668.9,46.0 668.0,54.7 670.6,63.2 681.4,71.3 702.9,79.1 703.2,79.2 703.5,79.4 703.8,79.6 704.0,79.8 718.8,94.5 730.8,97.0 731.0,97.0 731.3,97.1 731.5,97.2 746.8,104.9 759.6,110.0 759.8,110.1 760.0,110.2 772.6,117.8 787.6,122.8 788.0,122.9 788.2,123.0 788.5,123.2 796.1,129.0 813.1,140.9 813.3,141.0 825.3,150.5 825.5,150.7 825.7,150.9 825.9,151.2 826.0,151.4 826.1,151.7 833.8,168.8 834.0,169.1 842.7,198.6 855.7,214.3 855.9,214.5 856.1,214.8 856.2,215.1 856.3,215.4 856.4,215.7 861.9,248.8 871.8,276.0 871.9,276.3 875.9,294.3 876.0,294.5 883.0,333.5 883.0,333.5 891.0,379.5 895.5,404.5 895.5,404.6 896.6,413.4 900.5,413.2 900.5,411.1 899.1,389.1 892.3,347.6 885.3,314.2 877.0,278.1 877.0,278.0 871.4,250.4 859.0,217.3 847.9,192.3 847.7,192.0 843.8,179.7 836.3,163.0 822.9,147.1 808.2,134.4 788.6,122.6 768.8,112.7 743.9,102.8 743.7,102.7 743.5,102.6 723.5,90.6 723.4,90.5 703.4,77.5 703.2,77.4 688.2,66.4 688.0,66.2 687.8,66.1 687.6,65.8 687.5,65.6 678.5,51.6 678.3,51.4 678.2,51.1 678.1,50.8 678.1,50.6 678.0,50.3 678.0,50.0 678.0,22.4 674.7,22.4"/><circle cx="674.3" cy="22.6" r="3.0"/><circle cx="674.9" cy="25.9" r="3.0"/><circle cx="674.4" cy="29.8" r="3.0"/><circle cx="675.1" cy="32.9" r="3.0"/><circle cx="674.7" cy="36.1" r="3.0"/><circle cx="672.5" cy="39.3" r="3.0"/><circle cx="671.3" cy="41.9" r="3.0"/><circle cx="669.7" cy="45.1" r="3.0"/><circle cx="668.3" cy="48.2" r="3.0"/><circle cx="668.9" cy="52.5" r="3.0"/><circle cx="668.8" cy="55.8" r="3.0"/><circle cx="668.8" cy="58.9" r="3.0"/><circle cx="670.4" cy="62.0" r="3.0"/><circle cx="673.3" cy="64.7" r="3.0"/><circle cx="675.1" cy="67.3" r="3.0"/><circle cx="677.9" cy="69.5" r="3.0"/><circle cx="681.1" cy="71.2" r="3.0"/><circle cx="684.2" cy="72.4" r="3.0"/><circle cx="687.3" cy="73.0" r="3.0"/><circle cx="691.4" cy="74.5" r="3.0"/><circle cx="694.6" cy="75.6" r="3.0"/><circle cx="698.1" cy="77.6" r="3.0"/><circle cx="701.2" cy="78.7" r="3.0"/><circle cx="704.1" cy="80.1" r="3.0"/><circle cx="706.1" cy="82.2" r="3.0"/><circle cx="709.4" cy="84.4" r="3.0"/><circle cx="712.0" cy="87.7" r="3.0"/><circle cx="713.8" cy="89.5" r="3.0"/><circle cx="716.4" cy="92.0" r="3.0"/><circle cx="719.5" cy="94.4" r="3.0"/><circle cx="721.8" cy="94.8" r="3.0"/><circle cx="726.1" cy="96.5" r="3.0"/><circle cx="729.2" cy="96.6" r="3.0"/><circle cx="732.6" cy="98.0" r="3.0"/><circle cx="735.3" cy="99.4" r="3.0"/><circle cx="738.9" cy="101.0" r="3.0"/><circle cx="741.6" cy="102.0" r="3.0"/><circle cx="744.9" cy="104.5" r="3.0"/><circle cx="748.1" cy="105.6" r="3.0"/><circle cx="751.3" cy="106.3" r="3.0"/><circle cx="754.2" cy="108.4" r="3.0"/><circle cx="758.3" cy="109.2" r="3.0"/><circle cx="761.4" cy="111.1" r="3.0"/><circle cx="764.6" cy="113.2" r="3.0"/><circle cx="767.0" cy="115.1" r="3.0"/><circle cx="770.7" cy="116.4" r="3.0"/><circle cx="773.7" cy="118.0" r="3.0"/><circle cx="776.4" cy="118.8" r="3.0"/><circle cx="780.3" cy="119.8" r="3.0"/><circle cx="782.7" cy="121.6" r="3.0"/><circle cx="786.8" cy="122.4" r="3.0"/><circle cx="790.0" cy="123.5" r="3.0"/><circle cx="792.1" cy="125.9" r="3.0"/><circle cx="795.0" cy="127.9" r="3.0"/><circle cx="797.5" cy="130.1" r="3.0"/><circle cx="801.3" cy="132.9" r="3.0"/><circle cx="804.0" cy="134.3" r="3.0"/><circle cx="806.3" cy="136.9" r="3.0"/><circle cx="809.5" cy="138.6" r="3.0"/><circle cx="811.7" cy="140.0" r="3.0"/><circle cx="815.5" cy="142.9" r="3.0"/><circle cx="818.3" cy="144.8" r="3.0"/><circle cx="820.5" cy="146.9" r="3.0"/><circle cx="823.8" cy="148.8" r="3.0"/><circle cx="826.0" cy="151.1" r="3.0"/><circle cx="827.7" cy="153.9" r="3.0"/><circle cx="829.1" cy="158.2" r="3.0"/><circle cx="829.7" cy="161.0" r="3.0"/><circle cx="831.9" cy="164.5" r="3.0"/><circle cx="833.3" cy="167.0" r="3.0"/><circle cx="834.3" cy="171.1" r="3.0"/><circle cx="835.9" cy="173.5" r="3.0"/><circle cx="835.9" cy="176.8" r="3.0"/><circle cx="836.8" cy="180.6" r="3.0"/><circle cx="837.9" cy="184.4" r="3.0"/><circle cx="839.6" cy="186.9" r="3.0"/><circle cx="840.4" cy="190.5" r="3.0"/><circle cx="841.4" cy="193.7" r="3.0"/><circle cx="842.0" cy="197.0" r="3.0"/><circle cx="844.0" cy="200.6" r="3.0"/><circle cx="846.5" cy="202.5" r="3.0"/><circle cx="848.9" cy="206.2" r="3.0"/><circle cx="851.2" cy="208.8" r="3.0"/><circle cx="852.5" cy="211.1" r="3.0"/><circle cx="854.8" cy="214.2" r="3.0"/><circle cx="856.2" cy="217.3" r="3.0"/><circle cx="856.9" cy="220.7" r="3.0"/><circle cx="857.5" cy="223.4" r="3.0"/><circle cx="858.2" cy="227.2" r="3.0"/><circle cx="859.4" cy="230.6" r="3.0"/><circle cx="859.5" cy="234.4" r="3.0"/><circle cx="860.6" cy="237.3" r="3.0"/><circle cx="860.8" cy="241.2" r="3.0"/><circle cx="861.5" cy="245.2" r="3.0"/><circle cx="861.6" cy="248.4" r="3.0"/><circle cx="862.9" cy="251.5" r="3.0"/><circle cx="863.5" cy="255.1" r="3.0"/><circle cx="865.8" cy="257.9" r="3.0"/><circle cx="866.3" cy="261.9" r="3.0"/><circle cx="867.2" cy="264.1" r="3.0"/><circle cx="868.4" cy="268.3" r="3.0"/><circle cx="870.4" cy="271.1" r="3.0"/><circle cx="871.4" cy="273.9" r="3.0"/><circle cx="872.4" cy="277.8" r="3.0"/><circle cx="873.0" cy="281.1" r="3.0"/><circle cx="873.7" cy="284.3" r="3.0"/><circle cx="874.0" cy="288.0" r="3.0"/><circle cx="875.0" cy="291.8" r="3.0"/><circle cx="876.4" cy="295.2" r="3.0"/><circle cx="876.6" cy="298.1" r="3.0"/><circle cx="877.1" cy="301.8" r="3.0"/><circle cx="878.1" cy="305.8" r="3.0"/><circle cx="878.0" cy="308.7" r="3.0"/><circle cx="879.1" cy="312.4" r="3.0"/><circle cx="880.2" cy="316.0" r="3.0"/><circle cx="880.5" cy="319.4" r="3.0"/><circle cx="881.2" cy="322.9" r="3.0"/><circle cx="881.8" cy="326.2" r="3.0"/><circle cx="881.9" cy="329.9" r="3.0"/><circle cx="882.7" cy="333.0" r="3.0"/><circle cx="883.8" cy="336.9" r="3.0"/><circle cx="884.6" cy="339.2" r="3.0"/><circle cx="884.4" cy="343.0" r="3.0"/><circle cx="885.1" cy="346.2" r="3.0"/><circle cx="885.9" cy="349.6" r="3.0"/><circle cx="886.2" cy="354.1" r="3.0"/><circle cx="887.3" cy="357.0" r="3.0"/><circle cx="887.2" cy="361.0" r="3.0"/><circle cx="888.5" cy="363.6" r="3.0"/><circle cx="888.6" cy="367.5" r="3.0"/><circle cx="889.7" cy="370.5" r="3.0"/><circle cx="890.6" cy="374.1" r="3.0"/><circle cx="890.4" cy="378.1" r="3.0"/><circle cx="890.8" cy="381.4" r="3.0"/><circle cx="891.5" cy="384.7" r="3.0"/><circle cx="892.2" cy="387.9" r="3.0"/><circle cx="893.6" cy="391.5" r="3.0"/><circle cx="893.7" cy="395.1" r="3.0"/><circle cx="894.1" cy="398.0" r="3.0"/><circle cx="894.8" cy="401.6" r="3.0"/><circle cx="895.2" cy="405.9" r="3.0"/><circle cx="895.5" cy="409.1" r="3.0"/><circle cx="897.0" cy="412.5" r="3.0"/><circle cx="898.3" cy="413.3" r="3.0"/><circle cx="899.9" cy="411.4" r="3.0"/><circle cx="900.5" cy="407.5" r="3.0"/><circle cx="899.5" cy="404.3" r="3.0"/><circle cx="899.4" cy="400.5" r="3.0"/><circle cx="899.6" cy="397.7" r="3.0"/><circle cx="899.3" cy="393.3" r="3.0"/><circle cx="899.5" cy="390.7" r="3.0"/><circle cx="898.8" cy="386.3" r="3.0"/><circle cx="897.8" cy="383.2" r="3.0"/><circle cx="897.7" cy="379.6" r="3.0"/><circle cx="897.4" cy="376.9" r="3.0"/><circle cx="897.0" cy="373.5" r="3.0"/><circle cx="895.3" cy="369.6" r="3.0"/><circle cx="894.8" cy="366.6" r="3.0"/><circle cx="895.0" cy="362.9" r="3.0"/><circle cx="893.8" cy="358.6" r="3.0"/><circle cx="894.0" cy="355.8" r="3.0"/><circle cx="893.2" cy="352.2" r="3.0"/><circle cx="892.8" cy="348.6" r="3.0"/><circle cx="891.5" cy="345.2" r="3.0"/><circle cx="890.8" cy="342.1" r="3.0"/><circle cx="890.8" cy="338.0" r="3.0"/><circle cx="889.1" cy="335.1" r="3.0"/><circle cx="889.1" cy="331.3" r="3.0"/><circle cx="887.9" cy="327.7" r="3.0"/><circle cx="886.9" cy="324.8" r="3.0"/><circle cx="887.0" cy="321.5" r="3.0"/><circle cx="885.6" cy="317.5" r="3.0"/><circle cx="885.8" cy="314.6" r="3.0"/><circle cx="884.4" cy="311.3" r="3.0"/><circle cx="884.0" cy="307.7" r="3.0"/><circle cx="882.5" cy="304.7" r="3.0"/><circle cx="881.9" cy="300.3" r="3.0"/><circle cx="881.2" cy="297.5" r="3.0"/><circle cx="880.8" cy="293.6" r="3.0"/><circle cx="880.1" cy="290.6" r="3.0"/><circle cx="878.7" cy="287.6" r="3.0"/><circle cx="878.7" cy="284.3" r="3.0"/><circle cx="877.7" cy="280.0" r="3.0"/><circle cx="877.1" cy="277.4" r="3.0"/><circle cx="876.1" cy="274.0" r="3.0"/><circle cx="875.9" cy="269.9" r="3.0"/><circle cx="875.2" cy="267.2" r="3.0"/><circle cx="874.3" cy="262.6" r="3.0"/><circle cx="873.1" cy="259.9" r="3.0"/><circle cx="872.7" cy="256.6" r="3.0"/><circle cx="872.1" cy="252.5" r="3.0"/><circle cx="871.6" cy="249.6" r="3.0"/><circle cx="870.3" cy="245.9" r="3.0"/><circle cx="869.2" cy="243.0" r="3.0"/><circle cx="867.7" cy="240.0" r="3.0"/><circle cx="866.6" cy="236.2" r="3.0"/><circle cx="864.4" cy="233.0" r="3.0"/><circle cx="863.3" cy="229.9" r="3.0"/><circle cx="862.8" cy="226.4" r="3.0"/><circle cx="860.8" cy="222.7" r="3.0"/><circle cx="859.9" cy="220.1" r="3.0"/><circle cx="858.2" cy="216.9" r="3.0"/><circle cx="857.0" cy="213.1" r="3.0"/><circle cx="856.4" cy="210.4" r="3.0"/><circle cx="854.9" cy="207.1" r="3.0"/><circle cx="852.6" cy="203.6" r="3.0"/><circle cx="851.5" cy="200.9" r="3.0"/><circle cx="850.5" cy="197.8" r="3.0"/><circle cx="848.9" cy="194.0" r="3.0"/><circle cx="847.4" cy="190.9" r="3.0"/><circle cx="846.4" cy="187.5" r="3.0"/><circle cx="845.4" cy="184.4" r="3.0"/><circle cx="843.7" cy="181.5" r="3.0"/><circle cx="843.1" cy="178.2" r="3.0"/><circle cx="841.8" cy="174.9" r="3.0"/><circle cx="840.7" cy="171.3" r="3.0"/><circle cx="838.5" cy="167.6" r="3.0"/><circle cx="837.4" cy="165.1" r="3.0"/><circle cx="835.6" cy="162.6" r="3.0"/><circle cx="832.9" cy="159.0" r="3.0"/><circle cx="831.3" cy="157.1" r="3.0"/><circle cx="828.7" cy="153.5" r="3.0"/><circle cx="826.3" cy="151.7" r="3.0"/><circle cx="824.2" cy="148.6" r="3.0"/><circle cx="821.6" cy="146.3" r="3.0"/><circle cx="819.2" cy="144.1" r="3.0"/><circle cx="816.9" cy="141.9" r="3.0"/><circle cx="813.7" cy="139.0" r="3.0"/><circle cx="811.5" cy="137.3" r="3.0"/><circle cx="809.0" cy="134.3" r="3.0"/><circle cx="806.0" cy="133.3" r="3.0"/><circle cx="802.0" cy="130.8" r="3.0"/><circle cx="799.7" cy="128.8" r="3.0"/><circle cx="796.9" cy="127.1" r="3.0"/><circle cx="793.8" cy="125.4" r="3.0"/><circle cx="790.2" cy="123.5" r="3.0"/><circle cx="787.5" cy="122.4" r="3.0"/><circle cx="784.0" cy="120.8" r="3.0"/><circle cx="781.0" cy="119.1" r="3.0"/><circle cx="777.9" cy="117.0" r="3.0"/><circle cx="774.5" cy="115.3" r="3.0"/><circle cx="772.1" cy="114.2" r="3.0"/><circle cx="768.2" cy="113.2" r="3.0"/><circle cx="765.6" cy="110.8" r="3.0"/><circle cx="762.5" cy="110.2" r="3.0"/><circle cx="758.9" cy="108.8" r="3.0"/><circle cx="756.2" cy="107.4" r="3.0"/><circle cx="752.6" cy="106.4" r="3.0"/><circle cx="749.0" cy="104.7" r="3.0"/><circle cx="746.2" cy="103.8" r="3.0"/><circle cx="742.7" cy="102.2" r="3.0"/><circle cx="739.4" cy="100.7" r="3.0"/><circle cx="736.2" cy="98.7" r="3.0"/><circle cx="733.7" cy="96.4" r="3.0"/><circle cx="730.8" cy="95.0" r="3.0"/><circle cx="727.2" cy="93.1" r="3.0"/><circle cx="724.3" cy="91.7" r="3.0"/><circle cx="721.6" cy="89.3" r="3.0"/><circle cx="718.5" cy="87.0" r="3.0"/><circle cx="715.5" cy="85.2" r="3.0"/><circle cx="713.1" cy="84.2" r="3.0"/><circle cx="709.7" cy="81.4" r="3.0"/><circle cx="707.1" cy="79.5" r="3.0"/><circle cx="704.0" cy="78.3" r="3.0"/><circle cx="700.9" cy="76.2" r="3.0"/><circle cx="698.5" cy="73.4" r="3.0"/><circle cx="695.3" cy="72.0" r="3.0"/><circle cx="692.3" cy="69.4" r="3.0"/><circle cx="690.1" cy="68.1" r="3.0"/><circle cx="687.4" cy="65.6" r="3.0"/><circle cx="684.9" cy="62.3" r="3.0"/><circle cx="683.4" cy="60.0" r="3.0"/><circle cx="681.5" cy="56.9" r="3.0"/><circle cx="679.2" cy="53.7" r="3.0"/><circle cx="678.5" cy="50.9" r="3.0"/><circle cx="678.1" cy="46.7" r="3.0"/><circle cx="678.5" cy="43.1" r="3.0"/><circle cx="678.6" cy="40.4" r="3.0"/><circle cx="678.3" cy="36.7" r="3.0"/><circle cx="677.6" cy="32.9" r="3.0"/><circle cx="678.2" cy="29.8" r="3.0"/><circle cx="677.9" cy="26.5" r="3.0"/><circle cx="677.5" cy="22.3" r="3.0"/></g><polyline points="848.6,212.4 856.1,255.2 864.7,293.7 874.0,334.6 885.9,412.8" fill="none" stroke="#ff0000" stroke-width="1.6" stroke-linejoin="round"/><polyline points="683.3,19.4 683.3,21.0 683.3,22.6 683.3,24.1 683.3,25.7 683.3,27.3 683.3,28.9 683.3,31.2 685.0,35.2 687.0,39.1 686.5,43.0 682.0,47.0 678.8,50.9 676.0,54.9 675.0,58.8 678.0,66.7 688.5,74.6 705.0,82.4 728.0,90.3 744.3,98.2 775.5,117.9 816.5,137.6 835.2,177.0 852.7,216.4 865.1,255.8 873.3,295.2 880.6,334.6 892.0,413.4 901.8,492.3 912.4,571.1 922.0,649.9 929.4,728.7 933.3,807.5 940.0,1004.5" fill="none" stroke="#008000" stroke-width="2.6" stroke-linejoin="round" stroke-linecap="butt"/><circle cx="683.3" cy="19.4" r="6.08" fill="#008000"/><circle cx="683.3" cy="21.0" r="6.08" fill="#008000"/><circle cx="683.3" cy="22.6" r="6.08" fill="#008000"/><circle cx="683.3" cy="24.1" r="6.08" fill="#008000"/><circle cx="683.3" cy="25.7" r="6.08" fill="#008000"/><circle cx="683.3" cy="27.3" r="6.08" fill="#008000"/><circle cx="683.3" cy="28.9" r="6.08" fill="#008000"/><circle cx="683.3" cy="31.2" r="6.08" fill="#008000"/><circle cx="685.0" cy="35.2" r="6.08" fill="#008000"/><circle cx="687.0" cy="39.1" r="6.08" fill="#008000"/><circle cx="686.5" cy="43.0" r="6.08" fill="#008000"/><circle cx="682.0" cy="47.0" r="6.08" fill="#008000"/><circle cx="678.8" cy="50.9" r="6.08" fill="#008000"/><circle cx="676.0" cy="54.9" r="6.08" fill="#008000"/><circle cx="675.0" cy="58.8" r="6.08" fill="#008000"/><circle cx="678.0" cy="66.7" r="6.08" fill="#008000"/><circle cx="688.5" cy="74.6" r="6.08" fill="#008000"/><circle cx="705.0" cy="82.4" r="6.08" fill="#008000"/><circle cx="728.0" cy="90.3" r="6.08" fill="#008000"/><circle cx="744.3" cy="98.2" r="6.08" fill="#008000"/><circle cx="775.5" cy="117.9" r="6.08" fill="#008000"/><circle cx="816.5" cy="137.6" r="6.08" fill="#008000"/><circle cx="835.2" cy="177.0" r="6.08" fill="#008000"/><circle cx="852.7" cy="216.4" r="6.08" fill="#008000"/><circle cx="865.1" cy="255.8" r="6.08" fill="#008000"/><circle cx="873.3" cy="295.2" r="6.08" fill="#008000"/><circle cx="880.6" cy="334.6" r="6.08" fill="#008000"/><circle cx="892.0" cy="413.4" r="6.08" fill="#008000"/><circle cx="901.8" cy="492.3" r="6.08" fill="#008000"/><circle cx="912.4" cy="571.1" r="6.08" fill="#008000"/><circle cx="922.0" cy="649.9" r="6.08" fill="#008000"/><circle cx="929.4" cy="728.7" r="6.08" fill="#008000"/><circle cx="933.3" cy="807.5" r="6.08" fill="#008000"/><circle cx="940.0" cy="1004.5" r="6.08" fill="#008000"/><polyline points="696.4,19.8 696.4,20.6 696.4,21.5 696.4,22.4 696.4,23.4 696.4,24.5 696.4,25.6 696.4,26.9 696.4,28.4 696.4,30.0 696.4,31.9 696.4,34.0 690.4,36.4 672.4,39.3 665.0,42.6 661.0,46.5 660.2,51.2 660.5,56.7 662.8,63.3 678.2,71.3 707.1,80.8 739.8,92.2 774.3,105.9 806.5,122.4 829.4,142.2 850.6,166.1 866.6,194.7 871.5,229.1 876.9,270.1 883.0,319.0 892.8,377.1 900.3,445.8 911.4,526.6 916.9,621.0 924.3,730.5" fill="none" stroke="#ff00ff" stroke-width="2.7" stroke-linejoin="round" stroke-linecap="butt"/><circle cx="696.4" cy="19.8" r="6.08" fill="#ff00ff"/><circle cx="696.4" cy="20.6" r="6.08" fill="#ff00ff"/><circle cx="696.4" cy="21.5" r="6.08" fill="#ff00ff"/><circle cx="696.4" cy="22.4" r="6.08" fill="#ff00ff"/><circle cx="696.4" cy="23.4" r="6.08" fill="#ff00ff"/><circle cx="696.4" cy="24.5" r="6.08" fill="#ff00ff"/><circle cx="696.4" cy="25.6" r="6.08" fill="#ff00ff"/><circle cx="696.4" cy="26.9" r="6.08" fill="#ff00ff"/><circle cx="696.4" cy="28.4" r="6.08" fill="#ff00ff"/><circle cx="696.4" cy="30.0" r="6.08" fill="#ff00ff"/><circle cx="696.4" cy="31.9" r="6.08" fill="#ff00ff"/><circle cx="696.4" cy="34.0" r="6.08" fill="#ff00ff"/><circle cx="690.4" cy="36.4" r="6.08" fill="#ff00ff"/><circle cx="672.4" cy="39.3" r="6.08" fill="#ff00ff"/><circle cx="665.0" cy="42.6" r="6.08" fill="#ff00ff"/><circle cx="661.0" cy="46.5" r="6.08" fill="#ff00ff"/><circle cx="660.2" cy="51.2" r="6.08" fill="#ff00ff"/><circle cx="660.5" cy="56.7" r="6.08" fill="#ff00ff"/><circle cx="662.8" cy="63.3" r="6.08" fill="#ff00ff"/><circle cx="678.2" cy="71.3" r="6.08" fill="#ff00ff"/><circle cx="707.1" cy="80.8" r="6.08" fill="#ff00ff"/><circle cx="739.8" cy="92.2" r="6.08" fill="#ff00ff"/><circle cx="774.3" cy="105.9" r="6.08" fill="#ff00ff"/><circle cx="806.5" cy="122.4" r="6.08" fill="#ff00ff"/><circle cx="829.4" cy="142.2" r="6.08" fill="#ff00ff"/><circle cx="850.6" cy="166.1" r="6.08" fill="#ff00ff"/><circle cx="866.6" cy="194.7" r="6.08" fill="#ff00ff"/><circle cx="871.5" cy="229.1" r="6.08" fill="#ff00ff"/><circle cx="876.9" cy="270.1" r="6.08" fill="#ff00ff"/><circle cx="883.0" cy="319.0" r="6.08" fill="#ff00ff"/><circle cx="892.8" cy="377.1" r="6.08" fill="#ff00ff"/><circle cx="900.3" cy="445.8" r="6.08" fill="#ff00ff"/><circle cx="911.4" cy="526.6" r="6.08" fill="#ff00ff"/><circle cx="916.9" cy="621.0" r="6.08" fill="#ff00ff"/><circle cx="924.3" cy="730.5" r="6.08" fill="#ff00ff"/></g>
<g clip-path="url(#c2)"><g fill="#00ffff"><polygon points="1110.8,22.8 1103.9,22.8 1105.2,33.3 1116.7,44.0 1151.0,54.8 1151.4,54.9 1151.7,55.1 1152.0,55.3 1190.0,83.3 1190.2,83.4 1207.2,97.4 1207.4,97.6 1224.4,114.6 1224.7,114.9 1242.7,137.9 1242.8,138.1 1243.0,138.3 1260.3,169.1 1263.1,170.0 1260.8,161.3 1250.1,141.7 1235.2,116.9 1217.4,92.2 1202.5,76.3 1202.4,76.2 1193.6,65.4 1170.3,47.0 1148.9,38.2 1119.0,29.3 1118.7,29.1 1118.4,29.0 1118.1,28.8 1117.8,28.6 1110.8,22.8"/><circle cx="1110.7" cy="23.2" r="3.4"/><circle cx="1108.2" cy="21.9" r="3.4"/><circle cx="1103.5" cy="22.5" r="3.4"/><circle cx="1103.5" cy="25.7" r="3.4"/><circle cx="1105.0" cy="28.1" r="3.4"/><circle cx="1105.0" cy="31.3" r="3.4"/><circle cx="1104.6" cy="33.5" r="3.4"/><circle cx="1106.9" cy="36.8" r="3.4"/><circle cx="1108.8" cy="38.6" r="3.4"/><circle cx="1111.1" cy="40.3" r="3.4"/><circle cx="1114.0" cy="41.6" r="3.4"/><circle cx="1117.5" cy="42.6" r="3.4"/><circle cx="1118.3" cy="45.9" r="3.4"/><circle cx="1122.3" cy="44.7" r="3.4"/><circle cx="1126.4" cy="47.8" r="3.4"/><circle cx="1127.0" cy="47.3" r="3.4"/><circle cx="1129.9" cy="47.9" r="3.4"/><circle cx="1134.1" cy="48.5" r="3.4"/><circle cx="1137.1" cy="49.1" r="3.4"/><circle cx="1138.6" cy="52.0" r="3.4"/><circle cx="1142.1" cy="51.8" r="3.4"/><circle cx="1145.5" cy="52.9" r="3.4"/><circle cx="1147.8" cy="52.6" r="3.4"/><circle cx="1151.5" cy="56.0" r="3.4"/><circle cx="1154.7" cy="56.8" r="3.4"/><circle cx="1155.5" cy="57.8" r="3.4"/><circle cx="1158.8" cy="60.4" r="3.4"/><circle cx="1159.7" cy="61.0" r="3.4"/><circle cx="1162.8" cy="63.5" r="3.4"/><circle cx="1166.4" cy="65.2" r="3.4"/><circle cx="1166.8" cy="67.9" r="3.4"/><circle cx="1170.2" cy="68.9" r="3.4"/><circle cx="1172.1" cy="70.4" r="3.4"/><circle cx="1175.0" cy="73.1" r="3.4"/><circle cx="1176.6" cy="74.3" r="3.4"/><circle cx="1179.2" cy="76.5" r="3.4"/><circle cx="1181.3" cy="77.1" r="3.4"/><circle cx="1184.5" cy="79.9" r="3.4"/><circle cx="1186.2" cy="81.2" r="3.4"/><circle cx="1189.0" cy="82.5" r="3.4"/><circle cx="1192.0" cy="86.2" r="3.4"/><circle cx="1194.4" cy="88.1" r="3.4"/><circle cx="1195.9" cy="89.9" r="3.4"/><circle cx="1198.7" cy="89.9" r="3.4"/><circle cx="1202.0" cy="93.7" r="3.4"/><circle cx="1202.4" cy="93.9" r="3.4"/><circle cx="1206.7" cy="96.0" r="3.4"/><circle cx="1207.6" cy="97.1" r="3.4"/><circle cx="1209.2" cy="100.9" r="3.4"/><circle cx="1213.7" cy="104.0" r="3.4"/><circle cx="1214.6" cy="103.6" r="3.4"/><circle cx="1216.3" cy="107.7" r="3.4"/><circle cx="1219.7" cy="109.4" r="3.4"/><circle cx="1220.3" cy="111.2" r="3.4"/><circle cx="1223.0" cy="113.6" r="3.4"/><circle cx="1224.5" cy="116.7" r="3.4"/><circle cx="1228.0" cy="117.0" r="3.4"/><circle cx="1228.3" cy="121.2" r="3.4"/><circle cx="1230.1" cy="123.7" r="3.4"/><circle cx="1232.6" cy="125.5" r="3.4"/><circle cx="1234.9" cy="126.6" r="3.4"/><circle cx="1235.7" cy="129.1" r="3.4"/><circle cx="1238.6" cy="132.6" r="3.4"/><circle cx="1239.0" cy="135.4" r="3.4"/><circle cx="1241.6" cy="136.1" r="3.4"/><circle cx="1243.3" cy="140.5" r="3.4"/><circle cx="1245.1" cy="142.2" r="3.4"/><circle cx="1247.5" cy="145.7" r="3.4"/><circle cx="1248.6" cy="146.9" r="3.4"/><circle cx="1249.6" cy="150.8" r="3.4"/><circle cx="1251.6" cy="152.6" r="3.4"/><circle cx="1251.9" cy="154.6" r="3.4"/><circle cx="1254.4" cy="157.8" r="3.4"/><circle cx="1254.0" cy="160.8" r="3.4"/><circle cx="1257.8" cy="163.6" r="3.4"/><circle cx="1259.2" cy="166.5" r="3.4"/><circle cx="1259.8" cy="168.8" r="3.4"/><circle cx="1261.7" cy="168.6" r="3.4"/><circle cx="1262.3" cy="167.8" r="3.4"/><circle cx="1263.0" cy="165.8" r="3.4"/><circle cx="1261.2" cy="162.8" r="3.4"/><circle cx="1259.0" cy="159.8" r="3.4"/><circle cx="1259.0" cy="156.8" r="3.4"/><circle cx="1256.4" cy="154.2" r="3.4"/><circle cx="1255.2" cy="152.3" r="3.4"/><circle cx="1253.2" cy="148.1" r="3.4"/><circle cx="1252.2" cy="147.1" r="3.4"/><circle cx="1251.9" cy="144.3" r="3.4"/><circle cx="1250.9" cy="140.9" r="3.4"/><circle cx="1247.0" cy="138.7" r="3.4"/><circle cx="1246.6" cy="135.3" r="3.4"/><circle cx="1245.6" cy="133.2" r="3.4"/><circle cx="1242.9" cy="130.5" r="3.4"/><circle cx="1243.2" cy="127.1" r="3.4"/><circle cx="1240.2" cy="125.3" r="3.4"/><circle cx="1238.2" cy="123.1" r="3.4"/><circle cx="1236.7" cy="121.8" r="3.4"/><circle cx="1235.9" cy="118.6" r="3.4"/><circle cx="1233.4" cy="115.5" r="3.4"/><circle cx="1232.8" cy="114.1" r="3.4"/><circle cx="1230.1" cy="110.6" r="3.4"/><circle cx="1229.9" cy="109.2" r="3.4"/><circle cx="1226.5" cy="106.0" r="3.4"/><circle cx="1226.1" cy="103.1" r="3.4"/><circle cx="1224.2" cy="101.4" r="3.4"/><circle cx="1223.2" cy="98.7" r="3.4"/><circle cx="1220.7" cy="95.7" r="3.4"/><circle cx="1219.1" cy="93.2" r="3.4"/><circle cx="1216.6" cy="91.0" r="3.4"/><circle cx="1214.0" cy="88.2" r="3.4"/><circle cx="1211.8" cy="87.1" r="3.4"/><circle cx="1209.8" cy="83.6" r="3.4"/><circle cx="1209.1" cy="82.0" r="3.4"/><circle cx="1207.4" cy="80.6" r="3.4"/><circle cx="1204.0" cy="79.1" r="3.4"/><circle cx="1203.2" cy="75.5" r="3.4"/><circle cx="1199.3" cy="74.0" r="3.4"/><circle cx="1199.3" cy="71.6" r="3.4"/><circle cx="1197.2" cy="68.8" r="3.4"/><circle cx="1194.9" cy="66.0" r="3.4"/><circle cx="1192.2" cy="64.2" r="3.4"/><circle cx="1189.8" cy="62.4" r="3.4"/><circle cx="1188.6" cy="60.0" r="3.4"/><circle cx="1184.7" cy="58.3" r="3.4"/><circle cx="1184.3" cy="57.2" r="3.4"/><circle cx="1179.6" cy="56.1" r="3.4"/><circle cx="1179.3" cy="54.2" r="3.4"/><circle cx="1175.6" cy="52.1" r="3.4"/><circle cx="1173.1" cy="48.7" r="3.4"/><circle cx="1172.2" cy="48.6" r="3.4"/><circle cx="1167.9" cy="47.3" r="3.4"/><circle cx="1164.7" cy="44.7" r="3.4"/><circle cx="1161.9" cy="43.2" r="3.4"/><circle cx="1159.5" cy="43.5" r="3.4"/><circle cx="1157.0" cy="41.0" r="3.4"/><circle cx="1154.0" cy="40.1" r="3.4"/><circle cx="1153.0" cy="39.8" r="3.4"/><circle cx="1148.2" cy="38.8" r="3.4"/><circle cx="1146.5" cy="37.3" r="3.4"/><circle cx="1143.6" cy="37.0" r="3.4"/><circle cx="1141.4" cy="35.7" r="3.4"/><circle cx="1138.1" cy="34.8" r="3.4"/><circle cx="1135.2" cy="33.7" r="3.4"/><circle cx="1131.8" cy="33.2" r="3.4"/><circle cx="1129.7" cy="31.7" r="3.4"/><circle cx="1127.3" cy="31.4" r="3.4"/><circle cx="1124.3" cy="31.0" r="3.4"/><circle cx="1121.7" cy="30.2" r="3.4"/><circle cx="1117.5" cy="28.3" r="3.4"/><circle cx="1115.7" cy="27.3" r="3.4"/><circle cx="1114.0" cy="23.7" r="3.4"/></g><g fill="#0000ff"></g><polyline points="1113.0,19.4 1113.2,21.0 1113.4,22.6 1113.6,24.1 1113.8,25.7 1114.0,27.3 1116.4,28.9 1120.0,31.2 1128.0,35.2 1139.0,39.1 1147.0,43.0 1153.5,47.0 1160.0,50.9 1165.0,54.9 1170.0,58.8 1183.0,66.7 1196.0,74.6 1207.0,82.4 1216.0,90.3 1220.0,98.2 1238.0,117.9 1251.0,137.6 1262.0,177.0 1278.5,216.4 1291.5,255.8 1304.5,295.2 1317.5,334.6 1342.0,413.4 1366.5,492.3 1388.5,571.1 1412.0,649.9 1434.5,728.7 1454.5,807.5 1500.0,1004.5" fill="none" stroke="#ff0000" stroke-width="8" stroke-linejoin="round"/><circle cx="1113.0" cy="19.4" r="6.08" fill="#ff0000"/><circle cx="1113.2" cy="21.0" r="6.08" fill="#ff0000"/><circle cx="1113.4" cy="22.6" r="6.08" fill="#ff0000"/><circle cx="1113.6" cy="24.1" r="6.08" fill="#ff0000"/><circle cx="1113.8" cy="25.7" r="6.08" fill="#ff0000"/><circle cx="1114.0" cy="27.3" r="6.08" fill="#ff0000"/><circle cx="1116.4" cy="28.9" r="6.08" fill="#ff0000"/><circle cx="1120.0" cy="31.2" r="6.08" fill="#ff0000"/><circle cx="1128.0" cy="35.2" r="6.08" fill="#ff0000"/><circle cx="1139.0" cy="39.1" r="6.08" fill="#ff0000"/><circle cx="1147.0" cy="43.0" r="6.08" fill="#ff0000"/><circle cx="1153.5" cy="47.0" r="6.08" fill="#ff0000"/><circle cx="1160.0" cy="50.9" r="6.08" fill="#ff0000"/><circle cx="1165.0" cy="54.9" r="6.08" fill="#ff0000"/><circle cx="1170.0" cy="58.8" r="6.08" fill="#ff0000"/><circle cx="1183.0" cy="66.7" r="6.08" fill="#ff0000"/><circle cx="1196.0" cy="74.6" r="6.08" fill="#ff0000"/><circle cx="1207.0" cy="82.4" r="6.08" fill="#ff0000"/><circle cx="1216.0" cy="90.3" r="6.08" fill="#ff0000"/><circle cx="1220.0" cy="98.2" r="6.08" fill="#ff0000"/><circle cx="1238.0" cy="117.9" r="6.08" fill="#ff0000"/><circle cx="1251.0" cy="137.6" r="6.08" fill="#ff0000"/><circle cx="1262.0" cy="177.0" r="6.08" fill="#ff0000"/><circle cx="1278.5" cy="216.4" r="6.08" fill="#ff0000"/><circle cx="1291.5" cy="255.8" r="6.08" fill="#ff0000"/><circle cx="1304.5" cy="295.2" r="6.08" fill="#ff0000"/><circle cx="1317.5" cy="334.6" r="6.08" fill="#ff0000"/><circle cx="1342.0" cy="413.4" r="6.08" fill="#ff0000"/><circle cx="1366.5" cy="492.3" r="6.08" fill="#ff0000"/><circle cx="1388.5" cy="571.1" r="6.08" fill="#ff0000"/><circle cx="1412.0" cy="649.9" r="6.08" fill="#ff0000"/><circle cx="1434.5" cy="728.7" r="6.08" fill="#ff0000"/><circle cx="1454.5" cy="807.5" r="6.08" fill="#ff0000"/><circle cx="1500.0" cy="1004.5" r="6.08" fill="#ff0000"/><g fill="#0000ff"><polygon points="1108.7,28.8 1108.9,29.0 1109.0,29.1 1109.1,29.2 1109.2,29.3 1109.3,29.3 1109.5,29.4 1124.4,35.4 1124.6,35.4 1149.0,43.3 1149.2,43.3 1149.5,43.4 1149.7,43.6 1171.0,57.2 1171.2,57.3 1194.7,74.9 1195.0,75.1 1195.2,75.3 1210.7,92.8 1210.9,93.1 1224.7,112.8 1224.8,112.9 1254.6,158.6 1254.8,158.9 1259.6,168.6 1259.7,168.8 1259.8,168.9 1259.9,169.0 1260.0,169.1 1260.1,169.2 1260.3,169.3 1260.4,169.4 1260.5,169.4 1260.7,169.5 1260.8,169.5 1261.0,169.5 1261.1,169.5 1261.3,169.5 1261.4,169.4 1261.5,169.4 1261.7,169.3 1261.8,169.3 1261.9,169.2 1262.0,169.1 1262.1,169.0 1262.2,168.9 1262.3,168.7 1262.4,168.6 1262.4,168.5 1262.5,168.3 1262.5,168.2 1262.5,168.0 1262.5,167.9 1262.5,167.7 1262.4,167.6 1262.4,167.5 1262.3,167.3 1257.4,157.4 1257.2,157.1 1227.3,111.2 1227.2,111.1 1213.3,91.2 1213.1,90.9 1197.2,73.1 1197.0,72.9 1196.8,72.8 1172.9,54.8 1172.8,54.7 1150.9,40.8 1150.7,40.7 1150.6,40.6 1150.4,40.6 1125.6,32.6 1125.4,32.5 1111.8,27.1 1111.5,27.0 1111.3,26.8 1111.1,26.7 1110.8,26.5 1110.6,26.3 1110.5,26.0 1105.3,18.6 1105.1,18.4 1105.0,18.3 1104.9,18.2 1104.8,18.1 1104.7,18.1 1104.5,18.0 1104.4,18.0 1104.3,17.9 1104.1,17.9 1104.0,17.9 1103.8,17.9 1103.7,17.9 1103.5,18.0 1103.4,18.0 1103.3,18.1 1103.1,18.2 1103.0,18.3 1102.9,18.4 1102.8,18.5 1102.7,18.6 1102.7,18.7 1102.6,18.9 1102.6,19.0 1102.5,19.1 1102.5,19.3 1102.5,19.4 1102.5,19.6 1102.5,19.7 1102.6,19.9 1102.6,20.0 1102.7,20.1 1102.8,20.3 1108.7,28.8"/><circle cx="1109.3" cy="28.4" r="3.0"/><circle cx="1111.3" cy="30.9" r="3.0"/><circle cx="1114.7" cy="31.2" r="3.0"/><circle cx="1118.5" cy="32.8" r="3.0"/><circle cx="1122.1" cy="33.9" r="3.0"/><circle cx="1125.4" cy="35.3" r="3.0"/><circle cx="1128.3" cy="37.1" r="3.0"/><circle cx="1131.8" cy="38.2" r="3.0"/><circle cx="1135.2" cy="38.2" r="3.0"/><circle cx="1138.7" cy="39.9" r="3.0"/><circle cx="1141.4" cy="40.5" r="3.0"/><circle cx="1145.4" cy="42.1" r="3.0"/><circle cx="1148.8" cy="43.4" r="3.0"/><circle cx="1151.9" cy="44.7" r="3.0"/><circle cx="1154.6" cy="46.7" r="3.0"/><circle cx="1157.0" cy="49.0" r="3.0"/><circle cx="1160.0" cy="50.6" r="3.0"/><circle cx="1163.8" cy="52.4" r="3.0"/><circle cx="1165.8" cy="54.5" r="3.0"/><circle cx="1169.3" cy="55.6" r="3.0"/><circle cx="1171.5" cy="58.0" r="3.0"/><circle cx="1174.3" cy="60.5" r="3.0"/><circle cx="1177.7" cy="62.2" r="3.0"/><circle cx="1180.4" cy="64.4" r="3.0"/><circle cx="1183.8" cy="66.1" r="3.0"/><circle cx="1186.0" cy="68.6" r="3.0"/><circle cx="1188.7" cy="70.7" r="3.0"/><circle cx="1191.8" cy="72.6" r="3.0"/><circle cx="1194.7" cy="74.8" r="3.0"/><circle cx="1196.4" cy="77.9" r="3.0"/><circle cx="1199.1" cy="79.9" r="3.0"/><circle cx="1201.5" cy="83.1" r="3.0"/><circle cx="1204.5" cy="85.2" r="3.0"/><circle cx="1206.2" cy="87.3" r="3.0"/><circle cx="1209.1" cy="90.0" r="3.0"/><circle cx="1211.0" cy="92.9" r="3.0"/><circle cx="1212.7" cy="95.8" r="3.0"/><circle cx="1214.6" cy="98.3" r="3.0"/><circle cx="1217.0" cy="102.1" r="3.0"/><circle cx="1219.1" cy="104.2" r="3.0"/><circle cx="1221.2" cy="106.9" r="3.0"/><circle cx="1222.9" cy="110.7" r="3.0"/><circle cx="1225.5" cy="113.2" r="3.0"/><circle cx="1227.3" cy="116.2" r="3.0"/><circle cx="1228.9" cy="119.2" r="3.0"/><circle cx="1231.3" cy="122.3" r="3.0"/><circle cx="1232.6" cy="125.3" r="3.0"/><circle cx="1234.8" cy="127.7" r="3.0"/><circle cx="1236.9" cy="131.2" r="3.0"/><circle cx="1238.6" cy="134.3" r="3.0"/><circle cx="1239.8" cy="136.7" r="3.0"/><circle cx="1242.4" cy="139.5" r="3.0"/><circle cx="1243.8" cy="142.9" r="3.0"/><circle cx="1246.0" cy="145.3" r="3.0"/><circle cx="1247.5" cy="149.1" r="3.0"/><circle cx="1249.8" cy="151.0" r="3.0"/><circle cx="1251.5" cy="154.1" r="3.0"/><circle cx="1254.2" cy="156.9" r="3.0"/><circle cx="1255.2" cy="159.9" r="3.0"/><circle cx="1257.0" cy="163.2" r="3.0"/><circle cx="1258.5" cy="166.9" r="3.0"/><circle cx="1261.1" cy="169.8" r="3.0"/><circle cx="1261.8" cy="167.1" r="3.0"/><circle cx="1261.2" cy="163.6" r="3.0"/><circle cx="1258.8" cy="161.0" r="3.0"/><circle cx="1257.5" cy="158.1" r="3.0"/><circle cx="1256.0" cy="154.8" r="3.0"/><circle cx="1253.5" cy="151.6" r="3.0"/><circle cx="1251.6" cy="148.5" r="3.0"/><circle cx="1250.2" cy="145.6" r="3.0"/><circle cx="1248.5" cy="143.3" r="3.0"/><circle cx="1245.6" cy="140.2" r="3.0"/><circle cx="1244.4" cy="136.7" r="3.0"/><circle cx="1242.3" cy="133.7" r="3.0"/><circle cx="1240.7" cy="130.7" r="3.0"/><circle cx="1238.6" cy="129.0" r="3.0"/><circle cx="1237.0" cy="125.1" r="3.0"/><circle cx="1234.7" cy="122.1" r="3.0"/><circle cx="1232.5" cy="120.0" r="3.0"/><circle cx="1231.2" cy="116.0" r="3.0"/><circle cx="1228.8" cy="113.9" r="3.0"/><circle cx="1226.6" cy="111.1" r="3.0"/><circle cx="1225.4" cy="108.0" r="3.0"/><circle cx="1222.8" cy="105.4" r="3.0"/><circle cx="1220.9" cy="101.8" r="3.0"/><circle cx="1218.6" cy="98.9" r="3.0"/><circle cx="1217.3" cy="96.4" r="3.0"/><circle cx="1215.1" cy="93.9" r="3.0"/><circle cx="1213.4" cy="90.3" r="3.0"/><circle cx="1210.4" cy="88.5" r="3.0"/><circle cx="1208.5" cy="85.3" r="3.0"/><circle cx="1206.0" cy="82.4" r="3.0"/><circle cx="1203.1" cy="79.6" r="3.0"/><circle cx="1201.0" cy="77.2" r="3.0"/><circle cx="1198.9" cy="75.5" r="3.0"/><circle cx="1196.0" cy="72.5" r="3.0"/><circle cx="1194.0" cy="70.4" r="3.0"/><circle cx="1190.8" cy="68.5" r="3.0"/><circle cx="1187.4" cy="66.6" r="3.0"/><circle cx="1185.4" cy="64.4" r="3.0"/><circle cx="1182.7" cy="61.4" r="3.0"/><circle cx="1179.0" cy="59.4" r="3.0"/><circle cx="1176.7" cy="58.2" r="3.0"/><circle cx="1174.4" cy="55.5" r="3.0"/><circle cx="1171.2" cy="53.9" r="3.0"/><circle cx="1167.9" cy="52.3" r="3.0"/><circle cx="1165.6" cy="50.1" r="3.0"/><circle cx="1162.6" cy="48.3" r="3.0"/><circle cx="1159.3" cy="45.8" r="3.0"/><circle cx="1155.9" cy="43.9" r="3.0"/><circle cx="1152.7" cy="42.8" r="3.0"/><circle cx="1150.0" cy="39.9" r="3.0"/><circle cx="1146.7" cy="39.0" r="3.0"/><circle cx="1143.5" cy="38.2" r="3.0"/><circle cx="1139.8" cy="37.3" r="3.0"/><circle cx="1136.8" cy="36.0" r="3.0"/><circle cx="1133.9" cy="34.9" r="3.0"/><circle cx="1130.2" cy="34.5" r="3.0"/><circle cx="1127.4" cy="32.9" r="3.0"/><circle cx="1123.0" cy="32.3" r="3.0"/><circle cx="1120.3" cy="30.2" r="3.0"/><circle cx="1116.6" cy="28.9" r="3.0"/><circle cx="1113.5" cy="27.5" r="3.0"/><circle cx="1110.1" cy="26.9" r="3.0"/><circle cx="1109.0" cy="23.0" r="3.0"/><circle cx="1106.6" cy="20.9" r="3.0"/><circle cx="1104.4" cy="17.4" r="3.0"/><circle cx="1102.5" cy="20.0" r="3.0"/><circle cx="1105.2" cy="23.1" r="3.0"/><circle cx="1106.7" cy="26.1" r="3.0"/><polygon points="1269.7,195.2 1269.7,195.3 1281.0,229.4 1281.1,229.5 1295.4,270.1 1295.5,270.2 1311.6,319.3 1311.7,319.3 1329.6,377.1 1329.6,377.1 1338.6,406.8 1338.7,407.1 1338.9,407.4 1339.0,407.7 1339.2,407.9 1339.4,408.1 1339.6,408.3 1339.8,408.5 1340.1,408.6 1340.3,408.8 1340.6,408.9 1340.9,408.9 1341.2,409.0 1341.5,409.0 1341.8,409.0 1342.1,408.9 1342.4,408.9 1342.6,408.8 1342.9,408.6 1343.2,408.5 1343.4,408.3 1343.6,408.1 1343.8,407.9 1344.0,407.7 1344.1,407.4 1344.3,407.2 1344.4,406.9 1344.4,406.6 1344.5,406.3 1344.5,406.0 1344.5,405.7 1344.4,405.4 1344.4,405.1 1335.4,375.3 1335.4,375.3 1317.4,317.5 1317.3,317.5 1301.2,268.3 1301.1,268.2 1286.7,227.6 1286.7,227.5 1275.3,193.4 1275.3,193.3 1263.7,159.1 1263.5,158.8 1263.4,158.5 1263.2,158.3 1263.0,158.0 1262.8,157.8 1262.6,157.6 1262.4,157.5 1262.1,157.3 1261.9,157.2 1261.6,157.1 1261.3,157.0 1261.0,157.0 1260.7,157.0 1260.4,157.0 1260.1,157.1 1259.8,157.2 1259.6,157.3 1259.3,157.4 1259.1,157.6 1258.8,157.8 1258.6,158.0 1258.4,158.2 1258.3,158.4 1258.1,158.7 1258.0,158.9 1257.9,159.2 1257.8,159.5 1257.8,159.8 1257.8,160.1 1257.8,160.4 1257.9,160.7 1258.0,161.0 1269.7,195.2"/><circle cx="1270.2" cy="194.8" r="3.0"/><circle cx="1270.2" cy="199.2" r="3.0"/><circle cx="1271.5" cy="201.4" r="3.0"/><circle cx="1273.2" cy="205.0" r="3.0"/><circle cx="1274.6" cy="208.2" r="3.0"/><circle cx="1275.8" cy="211.7" r="3.0"/><circle cx="1276.4" cy="215.7" r="3.0"/><circle cx="1277.6" cy="219.1" r="3.0"/><circle cx="1278.8" cy="221.3" r="3.0"/><circle cx="1280.1" cy="225.3" r="3.0"/><circle cx="1280.5" cy="228.2" r="3.0"/><circle cx="1282.3" cy="231.9" r="3.0"/><circle cx="1283.6" cy="235.5" r="3.0"/><circle cx="1284.8" cy="238.5" r="3.0"/><circle cx="1285.6" cy="241.9" r="3.0"/><circle cx="1286.3" cy="245.6" r="3.0"/><circle cx="1287.5" cy="248.7" r="3.0"/><circle cx="1289.5" cy="251.9" r="3.0"/><circle cx="1289.7" cy="255.4" r="3.0"/><circle cx="1291.5" cy="257.9" r="3.0"/><circle cx="1291.9" cy="261.6" r="3.0"/><circle cx="1293.0" cy="265.4" r="3.0"/><circle cx="1294.8" cy="268.2" r="3.0"/><circle cx="1295.8" cy="271.7" r="3.0"/><circle cx="1297.5" cy="274.6" r="3.0"/><circle cx="1298.0" cy="278.3" r="3.0"/><circle cx="1299.0" cy="281.6" r="3.0"/><circle cx="1300.3" cy="284.8" r="3.0"/><circle cx="1301.6" cy="288.2" r="3.0"/><circle cx="1302.0" cy="292.1" r="3.0"/><circle cx="1303.4" cy="294.8" r="3.0"/><circle cx="1304.6" cy="298.7" r="3.0"/><circle cx="1306.3" cy="301.5" r="3.0"/><circle cx="1306.8" cy="304.4" r="3.0"/><circle cx="1308.5" cy="307.8" r="3.0"/><circle cx="1309.1" cy="311.3" r="3.0"/><circle cx="1310.0" cy="314.7" r="3.0"/><circle cx="1310.9" cy="317.6" r="3.0"/><circle cx="1312.4" cy="321.9" r="3.0"/><circle cx="1313.5" cy="324.5" r="3.0"/><circle cx="1314.6" cy="327.7" r="3.0"/><circle cx="1315.4" cy="332.0" r="3.0"/><circle cx="1317.0" cy="334.9" r="3.0"/><circle cx="1318.0" cy="338.3" r="3.0"/><circle cx="1318.6" cy="341.7" r="3.0"/><circle cx="1320.2" cy="345.3" r="3.0"/><circle cx="1320.6" cy="348.6" r="3.0"/><circle cx="1321.9" cy="351.5" r="3.0"/><circle cx="1323.1" cy="355.4" r="3.0"/><circle cx="1323.9" cy="358.9" r="3.0"/><circle cx="1324.3" cy="361.7" r="3.0"/><circle cx="1326.0" cy="364.9" r="3.0"/><circle cx="1326.5" cy="368.6" r="3.0"/><circle cx="1327.9" cy="371.5" r="3.0"/><circle cx="1328.5" cy="375.7" r="3.0"/><circle cx="1329.9" cy="378.0" r="3.0"/><circle cx="1330.7" cy="381.5" r="3.0"/><circle cx="1332.5" cy="384.8" r="3.0"/><circle cx="1332.8" cy="388.0" r="3.0"/><circle cx="1334.1" cy="391.5" r="3.0"/><circle cx="1334.9" cy="395.5" r="3.0"/><circle cx="1336.6" cy="399.0" r="3.0"/><circle cx="1336.6" cy="401.8" r="3.0"/><circle cx="1338.6" cy="404.8" r="3.0"/><circle cx="1339.3" cy="408.4" r="3.0"/><circle cx="1342.9" cy="408.9" r="3.0"/><circle cx="1344.7" cy="405.6" r="3.0"/><circle cx="1343.2" cy="401.9" r="3.0"/><circle cx="1342.2" cy="398.4" r="3.0"/><circle cx="1341.7" cy="395.1" r="3.0"/><circle cx="1340.9" cy="392.4" r="3.0"/><circle cx="1338.9" cy="388.8" r="3.0"/><circle cx="1338.6" cy="384.9" r="3.0"/><circle cx="1337.4" cy="381.5" r="3.0"/><circle cx="1336.7" cy="378.2" r="3.0"/><circle cx="1335.5" cy="376.0" r="3.0"/><circle cx="1334.8" cy="371.7" r="3.0"/><circle cx="1333.3" cy="368.3" r="3.0"/><circle cx="1332.1" cy="365.8" r="3.0"/><circle cx="1331.6" cy="361.4" r="3.0"/><circle cx="1330.0" cy="358.8" r="3.0"/><circle cx="1328.7" cy="355.7" r="3.0"/><circle cx="1328.6" cy="352.0" r="3.0"/><circle cx="1326.9" cy="349.0" r="3.0"/><circle cx="1326.0" cy="344.9" r="3.0"/><circle cx="1324.7" cy="341.5" r="3.0"/><circle cx="1324.3" cy="338.6" r="3.0"/><circle cx="1323.1" cy="335.6" r="3.0"/><circle cx="1322.4" cy="331.5" r="3.0"/><circle cx="1320.7" cy="329.0" r="3.0"/><circle cx="1320.1" cy="325.0" r="3.0"/><circle cx="1318.9" cy="321.4" r="3.0"/><circle cx="1317.3" cy="317.9" r="3.0"/><circle cx="1316.4" cy="314.8" r="3.0"/><circle cx="1315.5" cy="312.4" r="3.0"/><circle cx="1314.0" cy="308.5" r="3.0"/><circle cx="1313.7" cy="305.2" r="3.0"/><circle cx="1312.2" cy="302.1" r="3.0"/><circle cx="1310.5" cy="299.0" r="3.0"/><circle cx="1310.2" cy="295.5" r="3.0"/><circle cx="1309.3" cy="291.3" r="3.0"/><circle cx="1307.3" cy="288.1" r="3.0"/><circle cx="1306.7" cy="285.7" r="3.0"/><circle cx="1306.1" cy="281.7" r="3.0"/><circle cx="1304.7" cy="278.8" r="3.0"/><circle cx="1303.2" cy="275.7" r="3.0"/><circle cx="1302.8" cy="272.1" r="3.0"/><circle cx="1301.7" cy="268.8" r="3.0"/><circle cx="1300.2" cy="265.0" r="3.0"/><circle cx="1298.6" cy="261.6" r="3.0"/><circle cx="1297.2" cy="259.1" r="3.0"/><circle cx="1296.3" cy="254.7" r="3.0"/><circle cx="1295.2" cy="251.5" r="3.0"/><circle cx="1294.1" cy="248.4" r="3.0"/><circle cx="1292.6" cy="245.3" r="3.0"/><circle cx="1291.8" cy="241.8" r="3.0"/><circle cx="1291.1" cy="238.5" r="3.0"/><circle cx="1289.6" cy="235.9" r="3.0"/><circle cx="1288.9" cy="232.0" r="3.0"/><circle cx="1286.6" cy="229.3" r="3.0"/><circle cx="1286.1" cy="225.1" r="3.0"/><circle cx="1284.5" cy="221.8" r="3.0"/><circle cx="1283.6" cy="218.4" r="3.0"/><circle cx="1282.2" cy="216.1" r="3.0"/><circle cx="1282.0" cy="211.7" r="3.0"/><circle cx="1280.5" cy="209.2" r="3.0"/><circle cx="1279.4" cy="205.0" r="3.0"/><circle cx="1278.1" cy="202.0" r="3.0"/><circle cx="1277.7" cy="199.0" r="3.0"/><circle cx="1276.0" cy="195.7" r="3.0"/><circle cx="1274.4" cy="192.4" r="3.0"/><circle cx="1274.2" cy="189.1" r="3.0"/><circle cx="1272.5" cy="185.3" r="3.0"/><circle cx="1271.0" cy="181.7" r="3.0"/><circle cx="1270.0" cy="178.9" r="3.0"/><circle cx="1269.6" cy="175.3" r="3.0"/><circle cx="1268.1" cy="172.4" r="3.0"/><circle cx="1267.2" cy="168.4" r="3.0"/><circle cx="1266.4" cy="165.7" r="3.0"/><circle cx="1264.5" cy="162.0" r="3.0"/><circle cx="1263.9" cy="159.5" r="3.0"/><circle cx="1260.8" cy="156.9" r="3.0"/><circle cx="1258.2" cy="158.3" r="3.0"/><circle cx="1258.2" cy="162.6" r="3.0"/><circle cx="1259.5" cy="165.8" r="3.0"/><circle cx="1260.3" cy="169.1" r="3.0"/><circle cx="1262.1" cy="171.7" r="3.0"/><circle cx="1262.9" cy="175.5" r="3.0"/><circle cx="1264.1" cy="178.8" r="3.0"/><circle cx="1264.8" cy="182.0" r="3.0"/><circle cx="1266.1" cy="185.6" r="3.0"/><circle cx="1267.2" cy="189.2" r="3.0"/><circle cx="1268.6" cy="191.6" r="3.0"/></g><polyline points="1111.0,19.4 1111.0,21.0 1111.0,22.6 1111.0,24.1 1111.0,25.7 1111.0,27.3 1113.0,28.9 1117.8,31.2 1125.0,35.2 1136.0,39.1 1143.0,43.0 1150.3,47.0 1155.0,50.9 1159.0,54.9 1162.3,58.8 1175.2,66.7 1188.0,74.6 1198.3,82.4 1207.0,90.3 1215.4,98.2 1229.1,117.9 1249.0,137.6 1262.8,177.0 1279.9,216.4 1292.8,255.8 1306.0,295.2 1318.9,334.6 1342.7,413.4 1366.9,492.3 1388.5,571.1 1411.9,649.9 1434.5,728.7 1454.7,807.5 1500.0,1004.5" fill="none" stroke="#008000" stroke-width="2.6" stroke-linejoin="round" stroke-linecap="butt"/><circle cx="1111.0" cy="19.4" r="6.08" fill="#008000"/><circle cx="1111.0" cy="21.0" r="6.08" fill="#008000"/><circle cx="1111.0" cy="22.6" r="6.08" fill="#008000"/><circle cx="1111.0" cy="24.1" r="6.08" fill="#008000"/><circle cx="1111.0" cy="25.7" r="6.08" fill="#008000"/><circle cx="1111.0" cy="27.3" r="6.08" fill="#008000"/><circle cx="1113.0" cy="28.9" r="6.08" fill="#008000"/><circle cx="1117.8" cy="31.2" r="6.08" fill="#008000"/><circle cx="1125.0" cy="35.2" r="6.08" fill="#008000"/><circle cx="1136.0" cy="39.1" r="6.08" fill="#008000"/><circle cx="1143.0" cy="43.0" r="6.08" fill="#008000"/><circle cx="1150.3" cy="47.0" r="6.08" fill="#008000"/><circle cx="1155.0" cy="50.9" r="6.08" fill="#008000"/><circle cx="1159.0" cy="54.9" r="6.08" fill="#008000"/><circle cx="1162.3" cy="58.8" r="6.08" fill="#008000"/><circle cx="1175.2" cy="66.7" r="6.08" fill="#008000"/><circle cx="1188.0" cy="74.6" r="6.08" fill="#008000"/><circle cx="1198.3" cy="82.4" r="6.08" fill="#008000"/><circle cx="1207.0" cy="90.3" r="6.08" fill="#008000"/><circle cx="1215.4" cy="98.2" r="6.08" fill="#008000"/><circle cx="1229.1" cy="117.9" r="6.08" fill="#008000"/><circle cx="1249.0" cy="137.6" r="6.08" fill="#008000"/><circle cx="1262.8" cy="177.0" r="6.08" fill="#008000"/><circle cx="1279.9" cy="216.4" r="6.08" fill="#008000"/><circle cx="1292.8" cy="255.8" r="6.08" fill="#008000"/><circle cx="1306.0" cy="295.2" r="6.08" fill="#008000"/><circle cx="1318.9" cy="334.6" r="6.08" fill="#008000"/><circle cx="1342.7" cy="413.4" r="6.08" fill="#008000"/><circle cx="1366.9" cy="492.3" r="6.08" fill="#008000"/><circle cx="1388.5" cy="571.1" r="6.08" fill="#008000"/><circle cx="1411.9" cy="649.9" r="6.08" fill="#008000"/><circle cx="1434.5" cy="728.7" r="6.08" fill="#008000"/><circle cx="1454.7" cy="807.5" r="6.08" fill="#008000"/><circle cx="1500.0" cy="1004.5" r="6.08" fill="#008000"/><polyline points="1099.5,19.8 1099.7,20.6 1100.0,21.5 1100.2,22.4 1100.5,23.4 1101.0,24.5 1101.5,25.6 1102.0,26.9 1102.9,28.4 1103.9,30.0 1105.0,31.9 1106.5,34.0 1107.5,36.4 1109.2,39.3 1120.4,42.6 1134.1,46.5 1148.3,51.2 1161.5,56.7 1173.5,63.3 1185.4,71.3 1199.5,80.8 1212.8,92.2 1225.7,105.9 1237.3,122.4 1248.5,142.2 1259.9,166.1 1271.5,194.7 1282.9,229.1 1297.3,270.1 1313.5,319.0 1331.5,377.1 1352.5,445.8 1377.3,526.6 1402.9,621.0 1432.7,730.5" fill="none" stroke="#ff00ff" stroke-width="2.7" stroke-linejoin="round" stroke-linecap="butt"/><circle cx="1099.5" cy="19.8" r="6.08" fill="#ff00ff"/><circle cx="1099.7" cy="20.6" r="6.08" fill="#ff00ff"/><circle cx="1100.0" cy="21.5" r="6.08" fill="#ff00ff"/><circle cx="1100.2" cy="22.4" r="6.08" fill="#ff00ff"/><circle cx="1100.5" cy="23.4" r="6.08" fill="#ff00ff"/><circle cx="1101.0" cy="24.5" r="6.08" fill="#ff00ff"/><circle cx="1101.5" cy="25.6" r="6.08" fill="#ff00ff"/><circle cx="1102.0" cy="26.9" r="6.08" fill="#ff00ff"/><circle cx="1102.9" cy="28.4" r="6.08" fill="#ff00ff"/><circle cx="1103.9" cy="30.0" r="6.08" fill="#ff00ff"/><circle cx="1105.0" cy="31.9" r="6.08" fill="#ff00ff"/><circle cx="1106.5" cy="34.0" r="6.08" fill="#ff00ff"/><circle cx="1107.5" cy="36.4" r="6.08" fill="#ff00ff"/><circle cx="1109.2" cy="39.3" r="6.08" fill="#ff00ff"/><circle cx="1120.4" cy="42.6" r="6.08" fill="#ff00ff"/><circle cx="1134.1" cy="46.5" r="6.08" fill="#ff00ff"/><circle cx="1148.3" cy="51.2" r="6.08" fill="#ff00ff"/><circle cx="1161.5" cy="56.7" r="6.08" fill="#ff00ff"/><circle cx="1173.5" cy="63.3" r="6.08" fill="#ff00ff"/><circle cx="1185.4" cy="71.3" r="6.08" fill="#ff00ff"/><circle cx="1199.5" cy="80.8" r="6.08" fill="#ff00ff"/><circle cx="1212.8" cy="92.2" r="6.08" fill="#ff00ff"/><circle cx="1225.7" cy="105.9" r="6.08" fill="#ff00ff"/><circle cx="1237.3" cy="122.4" r="6.08" fill="#ff00ff"/><circle cx="1248.5" cy="142.2" r="6.08" fill="#ff00ff"/><circle cx="1259.9" cy="166.1" r="6.08" fill="#ff00ff"/><circle cx="1271.5" cy="194.7" r="6.08" fill="#ff00ff"/><circle cx="1282.9" cy="229.1" r="6.08" fill="#ff00ff"/><circle cx="1297.3" cy="270.1" r="6.08" fill="#ff00ff"/><circle cx="1313.5" cy="319.0" r="6.08" fill="#ff00ff"/><circle cx="1331.5" cy="377.1" r="6.08" fill="#ff00ff"/><circle cx="1352.5" cy="445.8" r="6.08" fill="#ff00ff"/><circle cx="1377.3" cy="526.6" r="6.08" fill="#ff00ff"/><circle cx="1402.9" cy="621.0" r="6.08" fill="#ff00ff"/><circle cx="1432.7" cy="730.5" r="6.08" fill="#ff00ff"/></g>
<rect x="99.5" y="19.5" width="396.00" height="795.00" fill="none" stroke="#000" stroke-width="1.2" stroke-linecap="square"/>
<path d="M93.40 19.50H99.5M93.40 98.50H99.5M93.40 177.50H99.5M93.40 255.50H99.5M93.40 334.50H99.5M93.40 413.50H99.5M93.40 492.50H99.5M93.40 571.50H99.5M93.40 649.50H99.5M93.40 728.50H99.5M93.40 807.50H99.5M133.50 814.5V820.60M246.50 814.5V820.60M359.50 814.5V820.60M471.50 814.5V820.60" stroke="#000" stroke-width="1.2" fill="none"/>
<rect x="589.5" y="19.5" width="396.00" height="795.00" fill="none" stroke="#000" stroke-width="1.2" stroke-linecap="square"/>
<path d="M583.40 19.50H589.5M583.40 98.50H589.5M583.40 177.50H589.5M583.40 255.50H589.5M583.40 334.50H589.5M583.40 413.50H589.5M583.40 492.50H589.5M583.40 571.50H589.5M583.40 649.50H589.5M583.40 728.50H589.5M583.40 807.50H589.5M627.50 814.5V820.60M731.50 814.5V820.60M835.50 814.5V820.60M939.50 814.5V820.60" stroke="#000" stroke-width="1.2" fill="none"/>
<rect x="1079.5" y="19.5" width="397.00" height="795.00" fill="none" stroke="#000" stroke-width="1.2" stroke-linecap="square"/>
<path d="M1073.40 19.50H1079.5M1073.40 98.50H1079.5M1073.40 177.50H1079.5M1073.40 255.50H1079.5M1073.40 334.50H1079.5M1073.40 413.50H1079.5M1073.40 492.50H1079.5M1073.40 571.50H1079.5M1073.40 649.50H1079.5M1073.40 728.50H1079.5M1073.40 807.50H1079.5M1126.50 814.5V820.60M1208.50 814.5V820.60M1290.50 814.5V820.60M1372.50 814.5V820.60M1454.50 814.5V820.60" stroke="#000" stroke-width="1.2" fill="none"/>
<text x="75.45" y="26.70" font-size="18.40" font-weight="normal" font-style="normal" textLength="11.05" lengthAdjust="spacingAndGlyphs" fill="#000">0</text>
<text x="53.36" y="105.51" font-size="18.40" font-weight="normal" font-style="normal" textLength="33.14" lengthAdjust="spacingAndGlyphs" fill="#000">100</text>
<text x="53.36" y="184.32" font-size="18.40" font-weight="normal" font-style="normal" textLength="33.14" lengthAdjust="spacingAndGlyphs" fill="#000">200</text>
<text x="53.36" y="263.13" font-size="18.40" font-weight="normal" font-style="normal" textLength="33.14" lengthAdjust="spacingAndGlyphs" fill="#000">300</text>
<text x="53.36" y="341.94" font-size="18.40" font-weight="normal" font-style="normal" textLength="33.14" lengthAdjust="spacingAndGlyphs" fill="#000">400</text>
<text x="53.36" y="420.75" font-size="18.40" font-weight="normal" font-style="normal" textLength="33.14" lengthAdjust="spacingAndGlyphs" fill="#000">500</text>
<text x="53.36" y="499.56" font-size="18.40" font-weight="normal" font-style="normal" textLength="33.14" lengthAdjust="spacingAndGlyphs" fill="#000">600</text>
<text x="53.36" y="578.37" font-size="18.40" font-weight="normal" font-style="normal" textLength="33.14" lengthAdjust="spacingAndGlyphs" fill="#000">700</text>
<text x="53.36" y="657.18" font-size="18.40" font-weight="normal" font-style="normal" textLength="33.14" lengthAdjust="spacingAndGlyphs" fill="#000">800</text>
<text x="53.36" y="735.99" font-size="18.40" font-weight="normal" font-style="normal" textLength="33.14" lengthAdjust="spacingAndGlyphs" fill="#000">900</text>
<text x="42.32" y="814.80" font-size="18.40" font-weight="normal" font-style="normal" textLength="44.18" lengthAdjust="spacingAndGlyphs" fill="#000">1000</text>
<text x="128.08" y="841.60" font-size="18.40" font-weight="normal" font-style="normal" textLength="11.05" lengthAdjust="spacingAndGlyphs" fill="#000">5</text>
<text x="235.34" y="841.60" font-size="18.40" font-weight="normal" font-style="normal" textLength="22.09" lengthAdjust="spacingAndGlyphs" fill="#000">10</text>
<text x="348.12" y="841.60" font-size="18.40" font-weight="normal" font-style="normal" textLength="22.09" lengthAdjust="spacingAndGlyphs" fill="#000">15</text>
<text x="460.91" y="841.60" font-size="18.40" font-weight="normal" font-style="normal" textLength="22.09" lengthAdjust="spacingAndGlyphs" fill="#000">20</text>
<text x="608.27" y="841.60" font-size="18.40" font-weight="normal" font-style="normal" textLength="38.65" lengthAdjust="spacingAndGlyphs" fill="#000">33.0</text>
<text x="712.17" y="841.60" font-size="18.40" font-weight="normal" font-style="normal" textLength="38.65" lengthAdjust="spacingAndGlyphs" fill="#000">33.5</text>
<text x="816.07" y="841.60" font-size="18.40" font-weight="normal" font-style="normal" textLength="38.65" lengthAdjust="spacingAndGlyphs" fill="#000">34.0</text>
<text x="919.97" y="841.60" font-size="18.40" font-weight="normal" font-style="normal" textLength="38.65" lengthAdjust="spacingAndGlyphs" fill="#000">34.5</text>
<g transform="translate(1125.00,850.50) rotate(-45)"><text x="-22.09" y="6.30" font-size="18.40" font-weight="normal" font-style="normal" textLength="44.18" lengthAdjust="spacingAndGlyphs" fill="#000">1024</text></g>
<g transform="translate(1207.00,850.50) rotate(-45)"><text x="-22.09" y="6.30" font-size="18.40" font-weight="normal" font-style="normal" textLength="44.18" lengthAdjust="spacingAndGlyphs" fill="#000">1026</text></g>
<g transform="translate(1289.00,850.50) rotate(-45)"><text x="-22.09" y="6.30" font-size="18.40" font-weight="normal" font-style="normal" textLength="44.18" lengthAdjust="spacingAndGlyphs" fill="#000">1028</text></g>
<g transform="translate(1371.00,850.50) rotate(-45)"><text x="-22.09" y="6.30" font-size="18.40" font-weight="normal" font-style="normal" textLength="44.18" lengthAdjust="spacingAndGlyphs" fill="#000">1030</text></g>
<g transform="translate(1453.00,850.50) rotate(-45)"><text x="-22.09" y="6.30" font-size="18.40" font-weight="normal" font-style="normal" textLength="44.18" lengthAdjust="spacingAndGlyphs" fill="#000">1032</text></g>
<g transform="translate(29.4,418) rotate(-90)"><text x="-64.53" y="0.00" font-size="23.92" font-weight="bold" font-style="normal" textLength="77.06" lengthAdjust="spacingAndGlyphs" fill="#000">Depth</text><text x="20.38" y="0.00" font-size="23.92" font-weight="bold" font-style="normal" textLength="44.15" lengthAdjust="spacingAndGlyphs" fill="#000">(m)</text></g>
<text x="188.82" y="872.20" font-size="23.92" font-weight="bold" font-style="normal" textLength="162.34" lengthAdjust="spacingAndGlyphs" fill="#000">Temperature</text><text x="359.02" y="872.20" font-size="23.92" font-weight="bold" font-style="normal" textLength="10.32" lengthAdjust="spacingAndGlyphs" fill="#000">(</text>
<text x="369.84" y="863.50" font-size="16.75" font-weight="normal" font-style="italic" textLength="9.67" lengthAdjust="spacingAndGlyphs" fill="#000">o</text>
<text x="379.50" y="872.20" font-size="23.92" font-weight="normal" font-style="italic" textLength="15.76" lengthAdjust="spacingAndGlyphs" fill="#000">C</text>
<text x="395.76" y="872.20" font-size="23.92" font-weight="bold" font-style="normal" textLength="10.32" lengthAdjust="spacingAndGlyphs" fill="#000">)</text>
<text x="739.27" y="869.60" font-size="23.92" font-weight="bold" font-style="normal" textLength="96.27" lengthAdjust="spacingAndGlyphs" fill="#000">Salinity</text>
<text x="1171.46" y="895.50" font-size="23.92" font-weight="bold" font-style="normal" textLength="96.78" lengthAdjust="spacingAndGlyphs" fill="#000">Density</text><text x="1276.10" y="895.50" font-size="23.92" font-weight="bold" font-style="normal" textLength="41.48" lengthAdjust="spacingAndGlyphs" fill="#000">(kg</text><text x="1325.44" y="895.50" font-size="23.92" font-weight="bold" font-style="normal" textLength="58.90" lengthAdjust="spacingAndGlyphs" fill="#000">m-3)</text>
<text x="424.00" y="917.60" font-size="18.40" font-weight="normal" font-style="italic" textLength="55.53" lengthAdjust="spacingAndGlyphs" fill="#000">Ocean</text><text x="485.05" y="917.60" font-size="18.40" font-weight="normal" font-style="italic" textLength="41.18" lengthAdjust="spacingAndGlyphs" fill="#000">Heat</text><text x="531.75" y="917.60" font-size="18.40" font-weight="normal" font-style="italic" textLength="69.04" lengthAdjust="spacingAndGlyphs" fill="#000">Content</text><text x="606.31" y="917.60" font-size="18.40" font-weight="normal" font-style="italic" textLength="86.61" lengthAdjust="spacingAndGlyphs" fill="#000">(kJ/cm^2)</text><text x="698.44" y="917.60" font-size="18.40" font-weight="normal" font-style="italic" textLength="6.26" lengthAdjust="spacingAndGlyphs" fill="#000">-</text><text x="710.22" y="917.60" font-size="18.40" font-weight="normal" font-style="italic" textLength="57.78" lengthAdjust="spacingAndGlyphs" fill="#000">Glider:</text><text x="773.52" y="917.60" font-size="18.40" font-weight="normal" font-style="italic" textLength="36.55" lengthAdjust="spacingAndGlyphs" fill="#000">N/A,</text><text x="821.11" y="917.60" font-size="18.40" font-weight="normal" font-style="italic" textLength="63.18" lengthAdjust="spacingAndGlyphs" fill="#000">RTOFS:</text><text x="889.82" y="917.60" font-size="18.40" font-weight="normal" font-style="italic" textLength="36.55" lengthAdjust="spacingAndGlyphs" fill="#000">N/A,</text><text x="937.40" y="917.60" font-size="18.40" font-weight="normal" font-style="italic" textLength="50.43" lengthAdjust="spacingAndGlyphs" fill="#000">ESPC:</text><text x="993.35" y="917.60" font-size="18.40" font-weight="normal" font-style="italic" textLength="36.55" lengthAdjust="spacingAndGlyphs" fill="#000">N/A,</text><text x="1040.94" y="917.60" font-size="18.40" font-weight="normal" font-style="italic" textLength="69.92" lengthAdjust="spacingAndGlyphs" fill="#000">CMEMS:</text><text x="1116.37" y="917.60" font-size="18.40" font-weight="normal" font-style="italic" textLength="36.55" lengthAdjust="spacingAndGlyphs" fill="#000">N/A,</text>
<text x="1529.30" y="36.70" font-size="23.92" font-weight="bold" font-style="normal" textLength="150.85" lengthAdjust="spacingAndGlyphs" fill="#000">Comparison</text><text x="1688.01" y="36.70" font-size="23.92" font-weight="bold" font-style="normal" textLength="69.09" lengthAdjust="spacingAndGlyphs" fill="#000">Date:</text><text x="1764.95" y="36.70" font-size="23.92" font-weight="bold" font-style="normal" textLength="144.37" lengthAdjust="spacingAndGlyphs" fill="#000">2025-09-11</text>
<text x="1529.30" y="89.90" font-size="23.92" font-weight="bold" font-style="normal" textLength="85.62" lengthAdjust="spacingAndGlyphs" fill="#000">Glider:</text><text x="1622.78" y="89.90" font-size="23.92" font-weight="bold" font-style="normal" textLength="76.70" lengthAdjust="spacingAndGlyphs" fill="#000">sp058</text>
<text x="1529.30" y="116.40" font-size="23.92" font-weight="bold" font-style="normal" textLength="105.41" lengthAdjust="spacingAndGlyphs" fill="#000">Profiles:</text><text x="1642.57" y="116.40" font-size="23.92" font-weight="bold" font-style="normal" textLength="15.70" lengthAdjust="spacingAndGlyphs" fill="#000">8</text>
<text x="1529.30" y="143.10" font-size="23.92" font-weight="bold" font-style="normal" textLength="67.53" lengthAdjust="spacingAndGlyphs" fill="#000">First:</text><text x="1604.69" y="143.10" font-size="23.92" font-weight="bold" font-style="normal" textLength="144.37" lengthAdjust="spacingAndGlyphs" fill="#000">2025-09-11</text><text x="1756.92" y="143.10" font-size="23.92" font-weight="bold" font-style="normal" textLength="112.28" lengthAdjust="spacingAndGlyphs" fill="#000">01:51:00</text>
<text x="1529.30" y="169.60" font-size="23.92" font-weight="bold" font-style="normal" textLength="62.86" lengthAdjust="spacingAndGlyphs" fill="#000">Last:</text><text x="1600.02" y="169.60" font-size="23.92" font-weight="bold" font-style="normal" textLength="144.37" lengthAdjust="spacingAndGlyphs" fill="#000">2025-09-11</text><text x="1752.24" y="169.60" font-size="23.92" font-weight="bold" font-style="normal" textLength="112.28" lengthAdjust="spacingAndGlyphs" fill="#000">23:21:30</text>
<text x="1529.30" y="196.40" font-size="23.92" font-weight="bold" font-style="normal" textLength="105.31" lengthAdjust="spacingAndGlyphs" fill="#000">Method:</text><text x="1642.47" y="196.40" font-size="23.92" font-weight="bold" font-style="normal" textLength="226.41" lengthAdjust="spacingAndGlyphs" fill="#000">Nearest-Neighbor</text>
<defs><clipPath id="cm"><rect x="1597.5" y="258.5" width="341.00" height="316.00"/></clipPath></defs>
<rect x="1597.5" y="258.5" width="341.00" height="316.00" fill="#97b6e2"/>
<g clip-path="url(#cm)">
<polygon points="1699.4,257.7 1700.3,265.4 1705.4,274.0 1710.6,284.3 1715.7,294.5 1717.4,303.1 1724.3,308.2 1732.8,315.1 1737.1,322.0 1738.0,330.5 1731.1,329.7 1724.3,328.0 1721.7,323.7 1725.1,328.8 1732.8,333.9 1743.1,340.8 1746.5,340.8 1753.4,347.6 1759.4,352.8 1761.1,361.3 1758.5,368.2 1763.7,372.5 1772.2,376.8 1780.8,383.6 1785.1,392.2 1791.9,388.8 1792.8,385.3 1787.6,376.8 1784.2,371.6 1779.1,373.3 1778.2,368.2 1775.7,359.6 1770.5,351.1 1765.4,342.5 1758.5,332.2 1753.4,321.9 1748.2,315.1 1741.4,308.2 1734.5,301.4 1730.3,292.8 1727.7,282.5 1728.5,275.7 1738.0,277.4 1743.1,280.8 1748.2,284.3 1750.0,291.1 1753.4,299.7 1756.8,306.5 1759.4,311.7 1762.0,316.8 1767.1,323.7 1775.7,328.8 1778.2,333.9 1782.5,337.4 1791.1,344.2 1794.5,349.4 1792.8,356.2 1801.3,361.3 1809.9,368.2 1820.2,376.8 1828.9,388.0 1835.3,396.1 1838.5,407.3 1841.8,412.1 1838.5,418.5 1836.9,425.0 1843.4,434.6 1851.4,441.0 1861.0,449.1 1878.7,454.7 1890.0,461.9 1904.4,468.3 1917.2,473.1 1928.5,478.8 1938.2,479.9 1945.0,479.9 1945.0,250.0 1699.4,250.0" fill="#d2b48c"/>
<polygon points="1945.0,422.0 1938.1,422.0 1934.9,412.4 1930.9,404.4 1928.5,398.0 1928.5,388.3 1932.4,370.0 1935.0,358.2 1936.9,352.4 1935.9,348.5 1935.0,338.9 1936.2,331.2 1937.8,324.8 1937.8,322.8 1945.0,322.0" fill="#97b6e2"/>
<polyline points="1699.2,257.7 1699.4,260.3 1699.6,262.9 1699.8,265.7 1701.3,267.7 1702.3,270.0 1704.7,271.5 1705.4,274.0 1705.9,276.3 1707.3,278.2 1708.0,280.4 1710.0,282.0 1710.6,284.3 1711.9,286.2 1712.6,288.4 1713.6,290.5 1715.3,292.2 1716.1,294.4 1716.6,297.3 1716.3,300.3 1717.2,303.4 1720.0,304.4 1721.8,306.8 1724.6,307.8 1726.3,310.1 1728.9,311.2 1731.1,312.8 1732.4,315.4 1734.6,317.2 1736.0,319.5 1736.4,322.1 1736.9,324.9 1738.0,327.6 1738.1,329.9 1735.7,330.2 1733.4,329.7 1731.0,330.1 1729.0,328.5 1726.6,328.3 1724.9,327.7 1723.5,325.6 1721.9,323.5 1723.6,326.1 1725.4,328.4 1727.3,329.7 1729.3,330.8 1731.0,332.4 1732.7,334.0 1735.2,334.7 1736.8,336.9 1739.1,337.9 1741.2,339.2 1743.1,341.2 1746.5,340.8 1748.4,342.3 1750.0,344.2 1751.5,346.1 1753.8,347.1 1755.0,349.8 1757.8,350.6 1759.1,352.9 1759.5,355.7 1761.2,358.3 1760.7,361.2 1760.4,363.7 1759.3,365.9 1758.9,367.7 1760.6,369.1 1762.3,370.7 1763.4,373.1 1766.0,373.2 1767.8,375.0 1769.8,376.3 1771.8,377.3 1774.5,378.3 1776.6,380.0 1778.6,381.9 1780.5,383.8 1782.4,385.5 1782.6,388.1 1783.7,390.2 1785.3,392.7 1787.1,390.5 1789.9,390.5 1791.3,388.7 1792.6,385.4 1791.6,383.1 1790.7,380.7 1788.7,379.0 1788.1,376.5 1786.0,374.2 1784.3,371.8 1781.7,372.7 1778.7,373.4 1778.1,370.9 1777.7,368.3 1777.8,366.0 1777.6,363.7 1775.9,361.9 1775.2,359.9 1775.0,357.1 1773.1,355.3 1771.7,353.3 1770.2,351.3 1769.3,348.9 1768.3,346.6 1766.6,344.7 1765.3,342.6 1763.5,340.8 1763.1,338.1 1760.7,336.7 1759.9,334.3 1758.9,332.0 1757.0,330.4 1756.8,327.9 1756.0,325.7 1754.6,323.9 1753.7,321.7 1751.2,320.0 1749.9,317.4 1747.9,315.4 1746.8,313.0 1744.6,311.9 1743.1,310.0 1741.9,307.7 1740.0,306.1 1738.4,304.3 1736.2,303.1 1734.5,301.4 1733.7,299.1 1732.4,297.1 1731.1,295.1 1730.2,292.8 1729.2,290.3 1728.8,287.7 1729.0,284.9 1728.3,282.6 1728.1,280.3 1728.2,278.0 1728.5,275.5 1731.0,275.6 1733.3,276.2 1735.6,277.4 1737.7,277.8 1740.7,278.9 1742.9,281.1 1745.4,282.9 1747.9,284.4 1748.6,286.6 1749.0,288.9 1750.2,291.0 1750.6,293.4 1752.0,295.3 1752.6,297.5 1753.1,299.9 1754.3,302.1 1755.9,304.1 1756.2,306.8 1757.9,309.2 1759.3,311.8 1761.3,313.9 1761.9,316.8 1764.0,318.9 1765.2,321.5 1767.1,323.7 1769.0,325.4 1771.3,326.4 1773.3,327.9 1775.9,328.7 1776.8,331.4 1778.0,334.2 1780.1,336.0 1782.6,337.2 1784.4,339.5 1786.5,341.2 1788.8,342.7 1790.5,344.6 1792.3,347.1 1794.5,349.4 1793.9,351.7 1793.8,354.0 1792.6,356.6 1794.6,358.0 1797.1,358.7 1799.0,360.3 1801.1,361.5 1802.8,362.9 1805.0,363.7 1806.2,365.7 1808.1,366.9 1809.8,368.4 1811.7,369.5 1813.2,371.2 1814.8,372.8 1816.6,374.1 1818.3,375.6 1820.7,376.4 1822.0,378.4 1823.2,380.5 1824.4,382.5 1826.3,384.0 1827.2,386.3 1828.8,388.1 1831.0,389.6 1832.1,392.0 1834.0,393.8 1835.9,395.9 1836.4,398.2 1836.8,400.5 1837.6,402.7 1838.3,404.9 1839.0,406.9 1840.2,409.7 1841.9,412.2 1840.6,414.2 1839.5,416.3 1838.9,418.6 1837.4,420.5 1838.1,423.0 1837.0,424.9 1838.5,426.7 1839.6,428.8 1841.2,430.5 1841.7,432.9 1843.5,434.5 1845.8,435.7 1847.3,437.9 1849.8,439.0 1851.4,441.0 1853.5,442.4 1855.2,444.3 1856.7,446.4 1858.8,447.8 1861.0,449.0 1863.1,450.2 1865.4,450.7 1867.7,451.0 1870.0,451.4 1872.0,452.7 1874.2,453.4 1876.3,454.6 1878.3,455.3 1880.5,456.0 1882.6,456.9 1884.1,458.8 1886.6,458.9 1888.4,460.2 1890.0,462.0 1892.0,463.0 1894.3,463.3 1896.1,464.8 1898.0,466.1 1900.4,466.3 1902.4,467.3 1904.5,467.9 1906.6,468.8 1908.4,470.5 1910.9,470.5 1912.7,472.1 1914.9,472.8 1917.1,473.2 1919.6,473.9 1921.4,476.0 1924.0,476.5 1926.3,477.6 1928.5,478.5 1930.8,479.7 1933.4,479.3 1935.8,479.3 1938.2,479.9" fill="none" stroke="#000" stroke-width="2.2" stroke-linejoin="round"/>
<polyline points="1938.0,324.9 1937.5,328.1 1936.0,331.2 1936.4,333.9 1935.4,336.3 1935.2,338.9 1935.8,341.2 1935.4,343.7 1936.3,346.0 1936.0,348.5 1937.5,352.6 1936.5,355.5 1935.1,358.2 1934.0,360.5 1934.5,363.0 1933.8,365.4 1932.7,367.6 1931.8,369.9 1931.8,372.3 1931.6,374.6 1930.3,376.7 1931.1,379.3 1929.5,381.3 1929.8,383.8 1929.5,386.1 1929.0,388.3 1928.8,390.7 1928.1,393.1 1928.9,395.6 1928.4,398.0 1929.1,400.2 1930.3,402.2 1930.8,404.4 1932.4,406.1 1933.5,408.1 1934.3,410.2 1934.7,412.5 1935.8,414.8 1936.7,417.1 1937.2,419.6 1938.1,422.0" fill="none" stroke="#000" stroke-width="1.9" stroke-linejoin="round"/>
<polygon points="1935.0,322.8 1937.8,323.2 1937.8,329.3 1935.6,331.8 1935.0,340.8 1936.9,351.1 1935.0,352.7 1932.4,346.0 1931.1,337.6 1928.5,335.7 1929.8,333.1 1932.4,331.8 1931.7,328.0 1934.3,326.1" fill="#000"/>
<polygon points="1928.5,398.8 1931.7,402.8 1936.5,412.4 1938.1,420.4 1934.9,415.6 1929.3,404.4" fill="#000"/>
<polygon points="1928.5,361.4 1934.3,358.8 1932.4,370.0 1929.2,370.0" fill="#4d6a8c" stroke="#000" stroke-width="1"/>
<ellipse cx="1687.4" cy="312.7" rx="1.5" ry="2.8" fill="#000"/>
<ellipse cx="1686" cy="260.2" rx="1.5" ry="1" fill="#000"/>
<ellipse cx="1773.6" cy="443.3" rx="1.4" ry="1.4" fill="#000"/>
<ellipse cx="1775.7" cy="437.4" rx="0.9" ry="0.9" fill="#000"/>
<ellipse cx="1729.4" cy="449.5" rx="1" ry="1" fill="#000"/>
<polygon points="1823.5,406 1825.5,405 1830.5,411 1830,413.5 1828,413" fill="#000" stroke="#000" stroke-width="1"/>
<polygon points="1741,304 1745,307 1749,313 1750,317 1747,317 1742,311" fill="#000"/>
<polygon points="1753,313 1757,311 1759,316 1755,319" fill="#000"/>
<polygon points="1719,321 1723,320 1724,325 1721,327" fill="#000"/>
<circle cx="1770" cy="348" r="1.2" fill="#000"/>
<circle cx="1772" cy="354" r="1.0" fill="#000"/>
<circle cx="1775" cy="358" r="1.3" fill="#000"/>
<circle cx="1777" cy="364" r="1.0" fill="#000"/>
<circle cx="1779" cy="368" r="1.4" fill="#000"/>
<circle cx="1781" cy="371" r="1.0" fill="#000"/>
<circle cx="1786" cy="372" r="1.2" fill="#000"/>
<circle cx="1712" cy="364" r="0.8" fill="#000"/>
<circle cx="1794" cy="386" r="0.8" fill="#000"/>
<circle cx="1822" cy="404" r="1.0" fill="#000"/>
<circle cx="1846" cy="398" r="0.8" fill="#000"/>
<circle cx="1794.5" cy="547.2" r="1.2" fill="#667"/>
<polyline points="1700,265.2 1728.5,262 1731,257.9" stroke="#000" stroke-width="1.6" fill="none" stroke-dasharray="5.6 2.0"/>
<polyline points="1728.5,265.4 1772.2,280.8 1806.5,280.8 1808.2,275.7 1824.5,274.6" stroke="#000" stroke-width="1.6" fill="none" stroke-dasharray="5.6 2.0"/>
<polyline points="1824.2,272.5 1831,280 1844.5,290.5 1849,302.5 1855,307.7 1864.7,313 1871.5,303.2 1876,301.7 1886.5,302.5 1895.4,311.5 1900,322 1909,332.4 1913.4,346 1923.9,351.2 1936.7,354.2" stroke="#97b6e2" stroke-width="1.3" fill="none"/>
<polyline points="1824.2,272.5 1831,280 1844.5,290.5 1849,302.5 1855,307.7 1864.7,313 1871.5,303.2 1876,301.7 1886.5,302.5 1895.4,311.5 1900,322 1909,332.4 1913.4,346 1923.9,351.2 1936.7,354.2" stroke="#000" stroke-width="1.6" fill="none" stroke-dasharray="5.6 2.0"/>
<polyline points="1797.1,257.9 1797.1,280.8" stroke="#000" stroke-width="1.3" fill="none"/>
<polyline points="1824.5,272.5 1867,272.5 1867,257.9" stroke="#000" stroke-width="1.3" fill="none"/>
<polyline points="1732,258.6 1752,258.6" stroke="#97b6e2" stroke-width="1.3" fill="none"/>
<polyline points="1729,262 1724.3,270.6 1728,275.5" stroke="#97b6e2" stroke-width="1.3" fill="none"/>
<polyline points="1816.8,257.9 1824.5,272.3" stroke="#97b6e2" stroke-width="1.3" fill="none"/>
<polyline points="1918,257.9 1930,266.5 1937.4,278.5" stroke="#97b6e2" stroke-width="1.3" fill="none"/>
<polyline points="1839.3,408.1 1846.6,406.5 1856.2,415.3 1862.6,416.9 1869,425.8" stroke="#97b6e2" stroke-width="1.3" fill="none"/>
<polyline points="1899.6,402.5 1907.6,408.1 1928.5,400.9" stroke="#97b6e2" stroke-width="1.3" fill="none"/>
<circle cx="1662.4" cy="258.8" r="4.3" fill="#ff0000" stroke="#000" stroke-width="0.8"/>
</g>
<rect x="1597.5" y="258.5" width="341.00" height="316.00" fill="none" stroke="#000" stroke-width="1.3"/>
<path d="M1588.70 563.41H1597.5M1938.5 563.41H1947.80M1588.70 527.56H1597.5M1938.5 527.56H1947.80M1588.70 491.32H1597.5M1938.5 491.32H1947.80M1588.70 454.55H1597.5M1938.5 454.55H1947.80M1588.70 417.16H1597.5M1938.5 417.16H1947.80M1588.70 379.01H1597.5M1938.5 379.01H1947.80M1588.70 339.95H1597.5M1938.5 339.95H1947.80M1588.70 299.84H1597.5M1938.5 299.84H1947.80M1588.70 258.50H1597.5M1938.5 258.50H1947.80M1597.50 250.00V258.5M1597.50 574.5V583.30M1632.77 250.00V258.5M1632.77 574.5V583.30M1668.04 250.00V258.5M1668.04 574.5V583.30M1703.31 250.00V258.5M1703.31 574.5V583.30M1738.58 250.00V258.5M1738.58 574.5V583.30M1773.86 250.00V258.5M1773.86 574.5V583.30M1809.13 250.00V258.5M1809.13 574.5V583.30M1844.40 250.00V258.5M1844.40 574.5V583.30M1879.67 250.00V258.5M1879.67 574.5V583.30M1914.94 250.00V258.5M1914.94 574.5V583.30" stroke="#000" stroke-width="2.9" fill="none"/>
<path d="M1594.00 575.29H1597.5M1938.5 575.29H1942.00M1594.00 551.50H1597.5M1938.5 551.50H1942.00M1594.00 539.55H1597.5M1938.5 539.55H1942.00M1594.00 515.53H1597.5M1938.5 515.53H1942.00M1594.00 503.45H1597.5M1938.5 503.45H1942.00M1594.00 479.12H1597.5M1938.5 479.12H1942.00M1594.00 466.87H1597.5M1938.5 466.87H1942.00M1594.00 442.17H1597.5M1938.5 442.17H1942.00M1594.00 429.70H1597.5M1938.5 429.70H1942.00M1594.00 404.53H1597.5M1938.5 404.53H1942.00M1594.00 391.82H1597.5M1938.5 391.82H1942.00M1594.00 366.10H1597.5M1938.5 366.10H1942.00M1594.00 353.08H1597.5M1938.5 353.08H1942.00M1594.00 326.71H1597.5M1938.5 326.71H1942.00M1594.00 313.34H1597.5M1938.5 313.34H1942.00M1594.00 286.21H1597.5M1938.5 286.21H1942.00M1594.00 272.43H1597.5M1938.5 272.43H1942.00M1609.26 255.00V258.5M1609.26 574.5V578.00M1621.01 255.00V258.5M1621.01 574.5V578.00M1644.53 255.00V258.5M1644.53 574.5V578.00M1656.29 255.00V258.5M1656.29 574.5V578.00M1679.80 255.00V258.5M1679.80 574.5V578.00M1691.56 255.00V258.5M1691.56 574.5V578.00M1715.07 255.00V258.5M1715.07 574.5V578.00M1726.83 255.00V258.5M1726.83 574.5V578.00M1750.34 255.00V258.5M1750.34 574.5V578.00M1762.10 255.00V258.5M1762.10 574.5V578.00M1785.61 255.00V258.5M1785.61 574.5V578.00M1797.37 255.00V258.5M1797.37 574.5V578.00M1820.88 255.00V258.5M1820.88 574.5V578.00M1832.64 255.00V258.5M1832.64 574.5V578.00M1856.15 255.00V258.5M1856.15 574.5V578.00M1867.91 255.00V258.5M1867.91 574.5V578.00M1891.42 255.00V258.5M1891.42 574.5V578.00M1903.18 255.00V258.5M1903.18 574.5V578.00M1926.70 255.00V258.5M1926.70 574.5V578.00M1938.45 255.00V258.5M1938.45 574.5V578.00" stroke="#000" stroke-width="1.8" fill="none"/>
<text x="1540.47" y="573.41" font-size="23.92" font-weight="normal" font-style="normal" textLength="42.53" lengthAdjust="spacingAndGlyphs" fill="#000">9°N</text>
<text x="1526.11" y="537.56" font-size="23.92" font-weight="normal" font-style="normal" textLength="56.89" lengthAdjust="spacingAndGlyphs" fill="#000">12°N</text>
<text x="1526.11" y="501.32" font-size="23.92" font-weight="normal" font-style="normal" textLength="56.89" lengthAdjust="spacingAndGlyphs" fill="#000">15°N</text>
<text x="1526.11" y="464.55" font-size="23.92" font-weight="normal" font-style="normal" textLength="56.89" lengthAdjust="spacingAndGlyphs" fill="#000">18°N</text>
<text x="1526.11" y="427.16" font-size="23.92" font-weight="normal" font-style="normal" textLength="56.89" lengthAdjust="spacingAndGlyphs" fill="#000">21°N</text>
<text x="1526.11" y="389.01" font-size="23.92" font-weight="normal" font-style="normal" textLength="56.89" lengthAdjust="spacingAndGlyphs" fill="#000">24°N</text>
<text x="1526.11" y="349.95" font-size="23.92" font-weight="normal" font-style="normal" textLength="56.89" lengthAdjust="spacingAndGlyphs" fill="#000">27°N</text>
<text x="1526.11" y="309.84" font-size="23.92" font-weight="normal" font-style="normal" textLength="56.89" lengthAdjust="spacingAndGlyphs" fill="#000">30°N</text>
<text x="1526.11" y="268.50" font-size="23.92" font-weight="normal" font-style="normal" textLength="56.89" lengthAdjust="spacingAndGlyphs" fill="#000">33°N</text>
<g transform="translate(1595.50,625.4) rotate(-45)"><text x="-38.34" y="8.20" font-size="23.92" font-weight="normal" font-style="normal" textLength="76.68" lengthAdjust="spacingAndGlyphs" fill="#000">126°W</text></g>
<g transform="translate(1630.77,625.4) rotate(-45)"><text x="-38.34" y="8.20" font-size="23.92" font-weight="normal" font-style="normal" textLength="76.68" lengthAdjust="spacingAndGlyphs" fill="#000">123°W</text></g>
<g transform="translate(1666.04,625.4) rotate(-45)"><text x="-38.34" y="8.20" font-size="23.92" font-weight="normal" font-style="normal" textLength="76.68" lengthAdjust="spacingAndGlyphs" fill="#000">120°W</text></g>
<g transform="translate(1701.31,625.4) rotate(-45)"><text x="-38.34" y="8.20" font-size="23.92" font-weight="normal" font-style="normal" textLength="76.68" lengthAdjust="spacingAndGlyphs" fill="#000">117°W</text></g>
<g transform="translate(1736.58,625.4) rotate(-45)"><text x="-38.34" y="8.20" font-size="23.92" font-weight="normal" font-style="normal" textLength="76.68" lengthAdjust="spacingAndGlyphs" fill="#000">114°W</text></g>
<g transform="translate(1771.86,625.4) rotate(-45)"><text x="-38.34" y="8.20" font-size="23.92" font-weight="normal" font-style="normal" textLength="76.68" lengthAdjust="spacingAndGlyphs" fill="#000">111°W</text></g>
<g transform="translate(1807.13,625.4) rotate(-45)"><text x="-38.34" y="8.20" font-size="23.92" font-weight="normal" font-style="normal" textLength="76.68" lengthAdjust="spacingAndGlyphs" fill="#000">108°W</text></g>
<g transform="translate(1842.40,625.4) rotate(-45)"><text x="-38.34" y="8.20" font-size="23.92" font-weight="normal" font-style="normal" textLength="76.68" lengthAdjust="spacingAndGlyphs" fill="#000">105°W</text></g>
<g transform="translate(1877.67,625.4) rotate(-45)"><text x="-38.34" y="8.20" font-size="23.92" font-weight="normal" font-style="normal" textLength="76.68" lengthAdjust="spacingAndGlyphs" fill="#000">102°W</text></g>
<g transform="translate(1912.94,625.4) rotate(-45)"><text x="-31.16" y="8.20" font-size="23.92" font-weight="normal" font-style="normal" textLength="62.32" lengthAdjust="spacingAndGlyphs" fill="#000">99°W</text></g>
<rect x="1685.5" y="663.1" width="164.7" height="143.4" rx="4" ry="4" fill="#fff" fill-opacity="0.8" stroke="#cccccc" stroke-width="1.1"/>
<line x1="1693.1" y1="683.3" x2="1741" y2="683.3" stroke="#0000ff" stroke-width="2.6"/>
<circle cx="1717.3" cy="683.3" r="6.08" fill="#0000ff"/>
<text x="1758.30" y="691.40" font-size="23.92" font-weight="normal" font-style="normal" textLength="69.17" lengthAdjust="spacingAndGlyphs" fill="#000">sp058</text>
<line x1="1693.1" y1="717.3" x2="1741" y2="717.3" stroke="#ff0000" stroke-width="2.6"/>
<circle cx="1717.3" cy="717.3" r="6.08" fill="#ff0000"/>
<text x="1758.30" y="725.40" font-size="23.92" font-weight="normal" font-style="normal" textLength="72.50" lengthAdjust="spacingAndGlyphs" fill="#000">RTOFS</text>
<line x1="1693.1" y1="751.4" x2="1741" y2="751.4" stroke="#008000" stroke-width="2.6"/>
<circle cx="1717.3" cy="751.4" r="6.08" fill="#008000"/>
<text x="1758.30" y="759.50" font-size="23.92" font-weight="normal" font-style="normal" textLength="57.96" lengthAdjust="spacingAndGlyphs" fill="#000">ESPC</text>
<line x1="1693.1" y1="785.2" x2="1741" y2="785.2" stroke="#ff00ff" stroke-width="2.6"/>
<circle cx="1717.3" cy="785.2" r="6.08" fill="#ff00ff"/>
<text x="1758.30" y="793.30" font-size="23.92" font-weight="normal" font-style="normal" textLength="83.29" lengthAdjust="spacingAndGlyphs" fill="#000">CMEMS</text>
</svg></body></html>
